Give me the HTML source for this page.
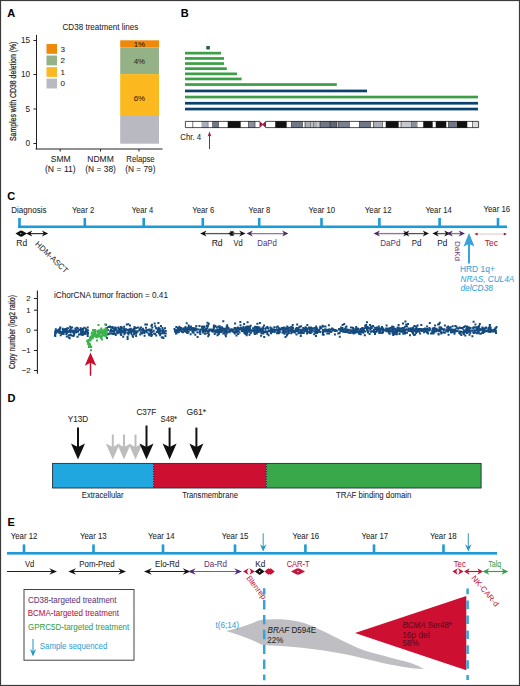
<!DOCTYPE html><html><head><meta charset="utf-8"><style>html,body{margin:0;padding:0;background:#fff;}svg{display:block;}</style></head><body>
<svg width="520" height="686" viewBox="0 0 520 686" font-family='"Liberation Sans", sans-serif'>
<rect width="520" height="686" fill="#fff"/>
<text x="7.2" y="16.9" font-size="11" fill="#000" stroke="#000" stroke-width="0.06" text-anchor="start" font-weight="bold">A</text>
<text x="180.8" y="16.8" font-size="11" fill="#000" stroke="#000" stroke-width="0.06" text-anchor="start" font-weight="bold">B</text>
<text x="7.2" y="199.8" font-size="11" fill="#000" stroke="#000" stroke-width="0.06" text-anchor="start" font-weight="bold">C</text>
<text x="7.5" y="401.5" font-size="11" fill="#000" stroke="#000" stroke-width="0.06" text-anchor="start" font-weight="bold">D</text>
<text x="7.6" y="526" font-size="11" fill="#000" stroke="#000" stroke-width="0.06" text-anchor="start" font-weight="bold">E</text>
<text transform="translate(62.54 30.40) scale(0.9288 1)" font-size="8.7" fill="#1e1e1e" stroke="#1e1e1e" stroke-width="0.06" >CD38 treatment lines</text>
<rect x="120.2" y="40.3" width="38.8" height="7.0" fill="#f0880a"/>
<rect x="120.2" y="47.3" width="38.8" height="26.8" fill="#95b287"/>
<rect x="120.2" y="74.1" width="38.8" height="41.9" fill="#fcb81f"/>
<rect x="120.2" y="116" width="38.8" height="27.7" fill="#b9b9c1"/>
<text x="139.4" y="47.4" font-size="7.9" fill="#2a1e0a" stroke="#2a1e0a" stroke-width="0.06" text-anchor="middle" >1%</text>
<text x="139.4" y="63.9" font-size="7.9" fill="#26301f" stroke="#26301f" stroke-width="0.06" text-anchor="middle" >4%</text>
<text x="139.4" y="100.6" font-size="7.9" fill="#2a1e0a" stroke="#2a1e0a" stroke-width="0.06" text-anchor="middle" >6%</text>
<rect x="46.5" y="44.00" width="10.5" height="9.8" fill="#f0880a"/>
<text x="60.5" y="51.6" font-size="8" fill="#1e1e1e" stroke="#1e1e1e" stroke-width="0.06" text-anchor="start" >3</text>
<rect x="46.5" y="55.55" width="10.5" height="9.8" fill="#95b287"/>
<text x="60.5" y="63.15" font-size="8" fill="#1e1e1e" stroke="#1e1e1e" stroke-width="0.06" text-anchor="start" >2</text>
<rect x="46.5" y="67.10" width="10.5" height="9.8" fill="#fbb825"/>
<text x="60.5" y="74.69999999999999" font-size="8" fill="#1e1e1e" stroke="#1e1e1e" stroke-width="0.06" text-anchor="start" >1</text>
<rect x="46.5" y="78.65" width="10.5" height="9.8" fill="#b9b9c1"/>
<text x="60.5" y="86.25" font-size="8" fill="#1e1e1e" stroke="#1e1e1e" stroke-width="0.06" text-anchor="start" >0</text>
<path d="M36.5 34.9V149.2M35.5 149H162.5" stroke="#222" stroke-width="1" fill="none"/>
<line x1="33.5" y1="40.5" x2="36.5" y2="40.5" stroke="#222" stroke-width="1"/>
<text x="30.1" y="43.4" font-size="8.2" fill="#1e1e1e" stroke="#1e1e1e" stroke-width="0.06" text-anchor="end" >15</text>
<line x1="33.5" y1="74.5" x2="36.5" y2="74.5" stroke="#222" stroke-width="1"/>
<text x="30.1" y="77.4" font-size="8.2" fill="#1e1e1e" stroke="#1e1e1e" stroke-width="0.06" text-anchor="end" >10</text>
<line x1="33.5" y1="109" x2="36.5" y2="109" stroke="#222" stroke-width="1"/>
<text x="30.1" y="111.9" font-size="8.2" fill="#1e1e1e" stroke="#1e1e1e" stroke-width="0.06" text-anchor="end" >5</text>
<line x1="33.5" y1="143.5" x2="36.5" y2="143.5" stroke="#222" stroke-width="1"/>
<text x="30.1" y="146.4" font-size="8.2" fill="#1e1e1e" stroke="#1e1e1e" stroke-width="0.06" text-anchor="end" >0</text>
<line x1="60.2" y1="149" x2="60.2" y2="151.5" stroke="#222" stroke-width="1"/>
<line x1="100.5" y1="149" x2="100.5" y2="151.5" stroke="#222" stroke-width="1"/>
<line x1="139" y1="149" x2="139" y2="151.5" stroke="#222" stroke-width="1"/>
<text transform="translate(50.81 161.90) scale(0.9818 1)" font-size="8.7" fill="#1e1e1e" stroke="#1e1e1e" stroke-width="0.06" >SMM</text>
<text transform="translate(45.01 171.70) scale(0.9900 1)" font-size="8.7" fill="#1e1e1e" stroke="#1e1e1e" stroke-width="0.06" >(N = 11)</text>
<text transform="translate(87.27 161.90) scale(0.9786 1)" font-size="8.7" fill="#1e1e1e" stroke="#1e1e1e" stroke-width="0.06" >NDMM</text>
<text transform="translate(85.32 171.70) scale(0.9659 1)" font-size="8.7" fill="#1e1e1e" stroke="#1e1e1e" stroke-width="0.06" >(N = 38)</text>
<text transform="translate(126.33 161.90) scale(0.8878 1)" font-size="8.7" fill="#1e1e1e" stroke="#1e1e1e" stroke-width="0.06" >Relapse</text>
<text transform="translate(125.32 171.70) scale(0.9528 1)" font-size="8.7" fill="#1e1e1e" stroke="#1e1e1e" stroke-width="0.06" >(N = 79)</text>
<text transform="translate(15.8 91.3) rotate(-90)" font-size="8.6" fill="#1e1e1e" stroke="#1e1e1e" stroke-width="0.22" text-anchor="middle" textLength="99.4" lengthAdjust="spacingAndGlyphs">Samples with CD38 deletion (%)</text>
<rect x="206.2" y="46" width="3.7" height="3.6" rx="0.8" fill="#2f5e3c"/>
<rect x="185" y="51.8" width="36.0" height="2.7" fill="#3c9e45"/>
<rect x="185" y="57.1" width="39.0" height="2.7" fill="#3c9e45"/>
<rect x="185" y="62.2" width="39.0" height="2.7" fill="#3c9e45"/>
<rect x="185" y="67.3" width="41.8" height="2.7" fill="#3c9e45"/>
<rect x="185" y="72.5" width="52.0" height="2.7" fill="#3c9e45"/>
<rect x="185" y="77.6" width="56.6" height="2.7" fill="#3c9e45"/>
<rect x="185" y="83.2" width="151.8" height="2.7" fill="#3c9e45"/>
<rect x="185" y="89.6" width="182.0" height="2.7" fill="#0b416f"/>
<rect x="185" y="95.7" width="293.0" height="2.7" fill="#3c9e45"/>
<rect x="185" y="101.9" width="293.0" height="2.7" fill="#0b416f"/>
<rect x="185" y="107.7" width="293.0" height="2.7" fill="#0b416f"/>
<g>
<rect x="185" y="121" width="7.50" height="7" fill="#ffffff"/>
<rect x="193" y="121" width="8.50" height="7" fill="#ffffff"/>
<rect x="201.5" y="121" width="6.00" height="7" fill="#a9adb6"/>
<rect x="208.5" y="121" width="3.50" height="7" fill="#ffffff"/>
<rect x="212" y="121" width="6.50" height="7" fill="#707887"/>
<rect x="218.5" y="121" width="9.50" height="7" fill="#ffffff"/>
<rect x="228" y="121" width="12.50" height="7" fill="#111111"/>
<rect x="240.5" y="121" width="8.00" height="7" fill="#ffffff"/>
<rect x="248.5" y="121" width="6.50" height="7" fill="#8a909a"/>
<rect x="255" y="121" width="4.50" height="7" fill="#ffffff"/>
<rect x="266" y="121" width="9.50" height="7" fill="#ffffff"/>
<rect x="275.5" y="121" width="11.00" height="7" fill="#111111"/>
<rect x="286.5" y="121" width="5.00" height="7" fill="#ffffff"/>
<rect x="291.5" y="121" width="11.00" height="7" fill="#707887"/>
<rect x="302.5" y="121" width="2.50" height="7" fill="#ffffff"/>
<rect x="305" y="121" width="6.00" height="7" fill="#a9adb6"/>
<rect x="311" y="121" width="2.00" height="7" fill="#ffffff"/>
<rect x="313" y="121" width="4.00" height="7" fill="#a9adb6"/>
<rect x="317" y="121" width="3.00" height="7" fill="#c4c7cc"/>
<rect x="320" y="121" width="9.00" height="7" fill="#707887"/>
<rect x="329" y="121" width="1.00" height="7" fill="#ffffff"/>
<rect x="330" y="121" width="7.00" height="7" fill="#5e6574"/>
<rect x="337" y="121" width="1.50" height="7" fill="#ffffff"/>
<rect x="338.5" y="121" width="10.50" height="7" fill="#7a8090"/>
<rect x="350" y="121" width="9.50" height="7" fill="#ffffff"/>
<rect x="359.5" y="121" width="11.00" height="7" fill="#707887"/>
<rect x="370.5" y="121" width="3.00" height="7" fill="#ffffff"/>
<rect x="373.5" y="121" width="8.50" height="7" fill="#a9adb6"/>
<rect x="383" y="121" width="3.00" height="7" fill="#ffffff"/>
<rect x="386" y="121" width="12.50" height="7" fill="#111111"/>
<rect x="398.5" y="121" width="2.50" height="7" fill="#ffffff"/>
<rect x="401" y="121" width="10.00" height="7" fill="#c4c7cc"/>
<rect x="412" y="121" width="4.50" height="7" fill="#8a909a"/>
<rect x="417.5" y="121" width="6.00" height="7" fill="#ffffff"/>
<rect x="423.5" y="121" width="9.00" height="7" fill="#111111"/>
<rect x="432.5" y="121" width="3.50" height="7" fill="#ffffff"/>
<rect x="436" y="121" width="10.00" height="7" fill="#111111"/>
<rect x="446" y="121" width="2.50" height="7" fill="#ffffff"/>
<rect x="448.5" y="121" width="7.50" height="7" fill="#707887"/>
<rect x="457" y="121" width="10.00" height="7" fill="#111111"/>
<rect x="467" y="121" width="5.00" height="7" fill="#ffffff"/>
<rect x="473" y="121" width="6.00" height="7" fill="#dcdcdc"/>
<line x1="192.75" y1="121" x2="192.75" y2="128" stroke="#222" stroke-width="0.6"/>
<line x1="208" y1="121" x2="208" y2="128" stroke="#222" stroke-width="0.6"/>
<line x1="218.5" y1="121" x2="218.5" y2="128" stroke="#222" stroke-width="0.6"/>
<line x1="228" y1="121" x2="228" y2="128" stroke="#222" stroke-width="0.6"/>
<line x1="240.5" y1="121" x2="240.5" y2="128" stroke="#222" stroke-width="0.6"/>
<line x1="248.5" y1="121" x2="248.5" y2="128" stroke="#222" stroke-width="0.6"/>
<line x1="255" y1="121" x2="255" y2="128" stroke="#222" stroke-width="0.6"/>
<line x1="275.5" y1="121" x2="275.5" y2="128" stroke="#222" stroke-width="0.6"/>
<line x1="286.5" y1="121" x2="286.5" y2="128" stroke="#222" stroke-width="0.6"/>
<line x1="291.5" y1="121" x2="291.5" y2="128" stroke="#222" stroke-width="0.6"/>
<line x1="302.5" y1="121" x2="302.5" y2="128" stroke="#222" stroke-width="0.6"/>
<line x1="305" y1="121" x2="305" y2="128" stroke="#222" stroke-width="0.6"/>
<line x1="311" y1="121" x2="311" y2="128" stroke="#222" stroke-width="0.6"/>
<line x1="313" y1="121" x2="313" y2="128" stroke="#222" stroke-width="0.6"/>
<line x1="320" y1="121" x2="320" y2="128" stroke="#222" stroke-width="0.6"/>
<line x1="329.5" y1="121" x2="329.5" y2="128" stroke="#222" stroke-width="0.6"/>
<line x1="330" y1="121" x2="330" y2="128" stroke="#222" stroke-width="0.6"/>
<line x1="337" y1="121" x2="337" y2="128" stroke="#222" stroke-width="0.6"/>
<line x1="338.5" y1="121" x2="338.5" y2="128" stroke="#222" stroke-width="0.6"/>
<line x1="349.5" y1="121" x2="349.5" y2="128" stroke="#222" stroke-width="0.6"/>
<line x1="359.5" y1="121" x2="359.5" y2="128" stroke="#222" stroke-width="0.6"/>
<line x1="370.5" y1="121" x2="370.5" y2="128" stroke="#222" stroke-width="0.6"/>
<line x1="373.5" y1="121" x2="373.5" y2="128" stroke="#222" stroke-width="0.6"/>
<line x1="382.5" y1="121" x2="382.5" y2="128" stroke="#222" stroke-width="0.6"/>
<line x1="386" y1="121" x2="386" y2="128" stroke="#222" stroke-width="0.6"/>
<line x1="398.5" y1="121" x2="398.5" y2="128" stroke="#222" stroke-width="0.6"/>
<line x1="401" y1="121" x2="401" y2="128" stroke="#222" stroke-width="0.6"/>
<line x1="411.5" y1="121" x2="411.5" y2="128" stroke="#222" stroke-width="0.6"/>
<line x1="417" y1="121" x2="417" y2="128" stroke="#222" stroke-width="0.6"/>
<line x1="423.5" y1="121" x2="423.5" y2="128" stroke="#222" stroke-width="0.6"/>
<line x1="432.5" y1="121" x2="432.5" y2="128" stroke="#222" stroke-width="0.6"/>
<line x1="436" y1="121" x2="436" y2="128" stroke="#222" stroke-width="0.6"/>
<line x1="446" y1="121" x2="446" y2="128" stroke="#222" stroke-width="0.6"/>
<line x1="448.5" y1="121" x2="448.5" y2="128" stroke="#222" stroke-width="0.6"/>
<line x1="456.5" y1="121" x2="456.5" y2="128" stroke="#222" stroke-width="0.6"/>
<line x1="467" y1="121" x2="467" y2="128" stroke="#222" stroke-width="0.6"/>
<line x1="472.5" y1="121" x2="472.5" y2="128" stroke="#222" stroke-width="0.6"/>
</g>
<path d="M185.4 121.4H259.5L262.75 124.5L266 121.4H478.6V127.6H266L262.75 124.5L259.5 127.6H185.4Z" fill="none" stroke="#222" stroke-width="0.8"/>
<path d="M259.5 121L262.75 124.4L259.5 127.8Z M266 121L262.75 124.4L266 127.8Z" fill="#a8123c"/>
<text transform="translate(180.35 139.80) scale(0.8978 1)" font-size="8.7" fill="#1e1e1e" stroke="#1e1e1e" stroke-width="0.06" >Chr. 4</text>
<line x1="209.5" y1="135" x2="209.5" y2="149" stroke="#a3194b" stroke-width="1"/>
<path d="M209.50 131.50L207.60 136.50L209.50 135.50L211.40 136.50Z" fill="#a3194b"/>
<rect x="18" y="225.5" width="489" height="2.6" fill="#1f9ad6"/>
<rect x="18.20" y="218" width="2.6" height="8" fill="#1f9ad6"/>
<rect x="83.50" y="218" width="2.6" height="8" fill="#1f9ad6"/>
<rect x="142.40" y="218" width="2.6" height="8" fill="#1f9ad6"/>
<rect x="201.50" y="218" width="2.6" height="8" fill="#1f9ad6"/>
<rect x="257.90" y="218" width="2.6" height="8" fill="#1f9ad6"/>
<rect x="320.20" y="218" width="2.6" height="8" fill="#1f9ad6"/>
<rect x="378.10" y="218" width="2.6" height="8" fill="#1f9ad6"/>
<rect x="438.30" y="218" width="2.6" height="8" fill="#1f9ad6"/>
<rect x="496.70" y="218" width="2.6" height="8" fill="#1f9ad6"/>
<path d="M15.5 233.6L20.65 230.4L21.25 230.76000000000002L21.85 230.4L27 233.6L21.85 236.79999999999998L21.25 236.43999999999997L20.65 236.79999999999998Z" fill="#111"/>
<circle cx="20.8" cy="233.6" r="0.6" fill="#fff"/>
<line x1="29.15" y1="233.6" x2="45.05" y2="233.6" stroke="#333" stroke-width="1.2"/>
<path d="M26.00 233.60L32.30 230.60L30.41 233.60L32.30 236.60Z" fill="#111"/>
<path d="M48.20 233.60L41.90 230.60L43.79 233.60L41.90 236.60Z" fill="#111"/>
<line x1="203.35" y1="233.6" x2="232.85" y2="233.6" stroke="#555" stroke-width="1.3"/>
<path d="M200.20 233.60L206.50 230.60L204.61 233.60L206.50 236.60Z" fill="#111"/>
<path d="M236.00 233.60L229.70 230.60L231.59 233.60L229.70 236.60Z" fill="#111"/>
<line x1="230.95" y1="233.6" x2="242.35" y2="233.6" stroke="#555" stroke-width="1.3"/>
<path d="M227.80 233.60L234.10 230.60L232.21 233.60L234.10 236.60Z" fill="#111"/>
<path d="M245.50 233.60L239.20 230.60L241.09 233.60L239.20 236.60Z" fill="#111"/>
<line x1="249.65" y1="233.6" x2="285.25" y2="233.6" stroke="#8c7a9c" stroke-width="1.4"/>
<path d="M246.50 233.60L252.80 230.60L250.91 233.60L252.80 236.60Z" fill="#4b2a66"/>
<path d="M288.40 233.60L282.10 230.60L283.99 233.60L282.10 236.60Z" fill="#4b2a66"/>
<line x1="376.75" y1="233.6" x2="406.35" y2="233.6" stroke="#8c7a9c" stroke-width="1.4"/>
<path d="M373.60 233.60L379.90 230.60L378.01 233.60L379.90 236.60Z" fill="#4b2a66"/>
<path d="M409.50 233.60L403.20 230.60L405.09 233.60L403.20 236.60Z" fill="#4b2a66"/>
<line x1="406.15" y1="233.6" x2="425.85" y2="233.6" stroke="#555" stroke-width="1.3"/>
<path d="M403.00 233.60L409.30 230.60L407.41 233.60L409.30 236.60Z" fill="#111"/>
<path d="M429.00 233.60L422.70 230.60L424.59 233.60L422.70 236.60Z" fill="#111"/>
<line x1="435.55" y1="233.6" x2="447.35" y2="233.6" stroke="#555" stroke-width="1.3"/>
<path d="M432.40 233.60L438.70 230.60L436.81 233.60L438.70 236.60Z" fill="#111"/>
<path d="M450.50 233.60L444.20 230.60L446.09 233.60L444.20 236.60Z" fill="#111"/>
<line x1="449.65" y1="233.6" x2="461.85" y2="233.6" stroke="#8c7a9c" stroke-width="1.4"/>
<path d="M446.50 233.60L452.80 230.60L450.91 233.60L452.80 236.60Z" fill="#4b2a66"/>
<path d="M465.00 233.60L458.70 230.60L460.59 233.60L458.70 236.60Z" fill="#4b2a66"/>
<line x1="476.00" y1="234.1" x2="505.40" y2="234.1" stroke="#dcbcc4" stroke-width="0.9"/>
<path d="M474.40 234.10L477.60 232.70L477.60 234.10L477.60 235.50Z" fill="#8c1c36"/>
<path d="M507.00 234.10L503.80 232.70L503.80 234.10L503.80 235.50Z" fill="#8c1c36"/>
<text transform="translate(11.31 212.60) scale(0.9208 1)" font-size="8.7" fill="#1e1e1e" stroke="#1e1e1e" stroke-width="0.06" >Diagnosis</text>
<text transform="translate(71.98 212.60) scale(0.8990 1)" font-size="8.7" fill="#1e1e1e" stroke="#1e1e1e" stroke-width="0.06" >Year 2</text>
<text transform="translate(131.78 212.60) scale(0.8660 1)" font-size="8.7" fill="#1e1e1e" stroke="#1e1e1e" stroke-width="0.06" >Year 4</text>
<text transform="translate(192.28 212.60) scale(0.8866 1)" font-size="8.7" fill="#1e1e1e" stroke="#1e1e1e" stroke-width="0.06" >Year 6</text>
<text transform="translate(248.58 212.60) scale(0.8742 1)" font-size="8.7" fill="#1e1e1e" stroke="#1e1e1e" stroke-width="0.06" >Year 8</text>
<text transform="translate(308.58 212.60) scale(0.8957 1)" font-size="8.7" fill="#1e1e1e" stroke="#1e1e1e" stroke-width="0.06" >Year 10</text>
<text transform="translate(364.77 212.60) scale(0.9034 1)" font-size="8.7" fill="#1e1e1e" stroke="#1e1e1e" stroke-width="0.06" >Year 12</text>
<text transform="translate(425.38 212.60) scale(0.8889 1)" font-size="8.7" fill="#1e1e1e" stroke="#1e1e1e" stroke-width="0.06" >Year 14</text>
<text transform="translate(483.47 212.40) scale(0.9000 1)" font-size="8.7" fill="#1e1e1e" stroke="#1e1e1e" stroke-width="0.06" >Year 16</text>
<text transform="translate(16.27 246.00) scale(0.9744 1)" font-size="8.7" fill="#1e1e1e" stroke="#1e1e1e" stroke-width="0.06" >Rd</text>
<text transform="translate(211.66 245.70) scale(0.9846 1)" font-size="8.7" fill="#1e1e1e" stroke="#1e1e1e" stroke-width="0.06" >Rd</text>
<text transform="translate(233.60 245.70) scale(0.8585 1)" font-size="8.7" fill="#1e1e1e" stroke="#1e1e1e" stroke-width="0.06" >Vd</text>
<text transform="translate(257.32 245.90) scale(0.9024 1)" font-size="8.7" fill="#5e3a7e" stroke="#5e3a7e" stroke-width="0.06" >DaPd</text>
<text transform="translate(380.30 245.70) scale(0.9268 1)" font-size="8.7" fill="#5e3a7e" stroke="#5e3a7e" stroke-width="0.06" >DaPd</text>
<text transform="translate(411.72 245.70) scale(0.9053 1)" font-size="8.7" fill="#1e1e1e" stroke="#1e1e1e" stroke-width="0.06" >Pd</text>
<text transform="translate(437.29 245.70) scale(0.9474 1)" font-size="8.7" fill="#1e1e1e" stroke="#1e1e1e" stroke-width="0.06" >Pd</text>
<text transform="translate(484.76 246.10) scale(0.9692 1)" font-size="8.7" fill="#c0143c" stroke="#c0143c" stroke-width="0.06" >Tec</text>
<text transform="translate(38.5 240.4) rotate(44)" font-size="8" fill="#1e1e1e" dy="5.6">HDM-ASCT</text>
<text transform="translate(454.6 241.0) rotate(90)" font-size="8" fill="#5e3a7e" dy="-0.6">DaKd</text>
<line x1="469" y1="244" x2="469" y2="263.5" stroke="#37a3d9" stroke-width="2"/>
<path d="M469.00 233.00L463.50 246.60L469.00 243.88L474.50 246.60Z" fill="#37a3d9"/>
<text transform="translate(459.97 271.80) scale(0.9698 1)" font-size="8.7" fill="#37a3d9" stroke="#37a3d9" stroke-width="0.06" >HRD 1q+</text>
<text transform="translate(460.46 281.70) scale(0.9440 1)" font-size="8.7" fill="#37a3d9" stroke="#37a3d9" stroke-width="0.06" font-style="italic">NRAS, CUL4A</text>
<text transform="translate(460.46 291.00) scale(0.9612 1)" font-size="8.7" fill="#37a3d9" stroke="#37a3d9" stroke-width="0.06" font-style="italic">delCD38</text>
<path d="M37.4 290.5V373.8" stroke="#222" stroke-width="1.1"/>
<line x1="34" y1="298.5" x2="37.5" y2="298.5" stroke="#222" stroke-width="1"/>
<text x="30.7" y="301.2" font-size="7.8" fill="#1e1e1e" stroke="#1e1e1e" stroke-width="0.06" text-anchor="end" >2</text>
<line x1="34" y1="310.2" x2="37.5" y2="310.2" stroke="#222" stroke-width="1"/>
<text x="30.7" y="312.9" font-size="7.8" fill="#1e1e1e" stroke="#1e1e1e" stroke-width="0.06" text-anchor="end" >1</text>
<line x1="34" y1="330.2" x2="37.5" y2="330.2" stroke="#222" stroke-width="1"/>
<text x="30.7" y="332.9" font-size="7.8" fill="#1e1e1e" stroke="#1e1e1e" stroke-width="0.06" text-anchor="end" >0</text>
<line x1="34" y1="350.5" x2="37.5" y2="350.5" stroke="#222" stroke-width="1"/>
<text x="30.7" y="353.2" font-size="7.8" fill="#1e1e1e" stroke="#1e1e1e" stroke-width="0.06" text-anchor="end" >−1</text>
<line x1="34" y1="370.5" x2="37.5" y2="370.5" stroke="#222" stroke-width="1"/>
<text x="30.7" y="373.2" font-size="7.8" fill="#1e1e1e" stroke="#1e1e1e" stroke-width="0.06" text-anchor="end" >−2</text>
<text transform="translate(14.6 332) rotate(-90)" font-size="8.9" fill="#1e1e1e" stroke="#1e1e1e" stroke-width="0.22" text-anchor="middle" textLength="74" lengthAdjust="spacingAndGlyphs">Copy number (log2 ratio)</text>
<text transform="translate(54.03 298.00) scale(0.9417 1)" font-size="8.7" fill="#1e1e1e" stroke="#1e1e1e" stroke-width="0.06" >iChorCNA tumor fraction = 0.41</text>
<path d="M64.5 330.0h2.0v2.0h-2.0zM65.9 329.5h2.0v2.0h-2.0zM54.8 329.5h2.0v2.0h-2.0zM67.9 330.8h2.0v2.0h-2.0zM57.7 331.0h2.0v2.0h-2.0zM73.1 333.8h2.0v2.0h-2.0zM86.7 335.1h2.0v2.0h-2.0zM58.4 331.8h2.0v2.0h-2.0zM64.0 331.0h2.0v2.0h-2.0zM75.2 328.9h2.0v2.0h-2.0zM72.1 331.2h2.0v2.0h-2.0zM76.6 330.7h2.0v2.0h-2.0zM64.2 328.0h2.0v2.0h-2.0zM80.5 329.0h2.0v2.0h-2.0zM61.8 327.7h2.0v2.0h-2.0zM78.3 329.0h2.0v2.0h-2.0zM86.8 332.3h2.0v2.0h-2.0zM58.6 332.1h2.0v2.0h-2.0zM54.8 328.3h2.0v2.0h-2.0zM83.2 326.7h2.0v2.0h-2.0zM77.1 327.6h2.0v2.0h-2.0zM82.0 328.5h2.0v2.0h-2.0zM69.6 329.9h2.0v2.0h-2.0zM75.5 329.6h2.0v2.0h-2.0zM81.4 329.8h2.0v2.0h-2.0zM54.2 332.8h2.0v2.0h-2.0zM59.2 331.0h2.0v2.0h-2.0zM57.9 331.0h2.0v2.0h-2.0zM66.8 331.1h2.0v2.0h-2.0zM72.2 329.6h2.0v2.0h-2.0zM81.3 331.7h2.0v2.0h-2.0zM65.7 328.9h2.0v2.0h-2.0zM86.0 331.3h2.0v2.0h-2.0zM61.4 331.6h2.0v2.0h-2.0zM73.5 330.4h2.0v2.0h-2.0zM66.0 330.6h2.0v2.0h-2.0zM85.9 329.3h2.0v2.0h-2.0zM76.5 335.8h2.0v2.0h-2.0zM80.0 333.5h2.0v2.0h-2.0zM67.0 327.2h2.0v2.0h-2.0zM75.0 331.2h2.0v2.0h-2.0zM59.0 330.7h2.0v2.0h-2.0zM55.3 331.8h2.0v2.0h-2.0zM65.8 335.4h2.0v2.0h-2.0zM74.4 331.5h2.0v2.0h-2.0zM65.9 331.9h2.0v2.0h-2.0zM82.3 333.2h2.0v2.0h-2.0zM56.4 330.3h2.0v2.0h-2.0zM65.1 329.9h2.0v2.0h-2.0zM54.3 335.1h2.0v2.0h-2.0zM71.4 329.8h2.0v2.0h-2.0zM86.7 332.9h2.0v2.0h-2.0zM77.2 330.2h2.0v2.0h-2.0zM79.7 332.8h2.0v2.0h-2.0zM80.0 329.5h2.0v2.0h-2.0zM87.0 331.9h2.0v2.0h-2.0zM80.9 332.1h2.0v2.0h-2.0zM71.1 326.6h2.0v2.0h-2.0zM54.5 332.4h2.0v2.0h-2.0zM77.0 330.7h2.0v2.0h-2.0zM68.7 337.2h2.0v2.0h-2.0zM65.9 327.5h2.0v2.0h-2.0zM61.2 330.9h2.0v2.0h-2.0zM84.1 332.0h2.0v2.0h-2.0zM69.8 327.8h2.0v2.0h-2.0zM75.9 326.7h2.0v2.0h-2.0zM80.1 330.4h2.0v2.0h-2.0zM80.3 327.5h2.0v2.0h-2.0zM80.7 332.9h2.0v2.0h-2.0zM85.7 329.9h2.0v2.0h-2.0zM59.3 331.4h2.0v2.0h-2.0zM80.9 331.4h2.0v2.0h-2.0zM81.6 334.0h2.0v2.0h-2.0zM72.1 329.9h2.0v2.0h-2.0zM54.0 333.9h2.0v2.0h-2.0zM85.2 329.7h2.0v2.0h-2.0zM83.1 331.2h2.0v2.0h-2.0zM63.4 328.9h2.0v2.0h-2.0zM73.4 330.2h2.0v2.0h-2.0zM84.4 333.0h2.0v2.0h-2.0zM69.1 325.7h2.0v2.0h-2.0zM84.7 327.7h2.0v2.0h-2.0zM71.6 329.9h2.0v2.0h-2.0zM59.7 334.2h2.0v2.0h-2.0zM59.3 326.4h2.0v2.0h-2.0zM64.6 331.0h2.0v2.0h-2.0zM72.4 330.6h2.0v2.0h-2.0zM61.9 329.2h2.0v2.0h-2.0zM79.7 327.2h2.0v2.0h-2.0zM84.5 330.2h2.0v2.0h-2.0zM74.3 327.4h2.0v2.0h-2.0zM68.9 330.3h2.0v2.0h-2.0zM69.7 334.0h2.0v2.0h-2.0zM85.5 329.0h2.0v2.0h-2.0zM72.5 334.9h2.0v2.0h-2.0zM57.6 328.7h2.0v2.0h-2.0zM55.9 330.4h2.0v2.0h-2.0zM80.1 331.4h2.0v2.0h-2.0zM58.7 329.6h2.0v2.0h-2.0zM83.5 326.8h2.0v2.0h-2.0zM60.9 332.8h2.0v2.0h-2.0zM87.1 329.6h2.0v2.0h-2.0zM59.0 327.6h2.0v2.0h-2.0zM60.1 331.6h2.0v2.0h-2.0zM78.0 333.5h2.0v2.0h-2.0zM54.1 330.8h2.0v2.0h-2.0zM74.7 329.5h2.0v2.0h-2.0zM80.3 330.3h2.0v2.0h-2.0zM57.0 330.3h2.0v2.0h-2.0zM62.7 331.1h2.0v2.0h-2.0zM67.8 334.3h2.0v2.0h-2.0zM58.6 327.9h2.0v2.0h-2.0zM72.9 332.4h2.0v2.0h-2.0zM67.9 336.4h2.0v2.0h-2.0zM75.1 330.7h2.0v2.0h-2.0zM55.7 329.4h2.0v2.0h-2.0zM68.9 328.7h2.0v2.0h-2.0zM62.6 333.1h2.0v2.0h-2.0zM71.4 330.5h2.0v2.0h-2.0zM55.2 331.6h2.0v2.0h-2.0zM64.1 329.0h2.0v2.0h-2.0zM70.5 334.4h2.0v2.0h-2.0zM65.3 333.1h2.0v2.0h-2.0zM72.2 330.6h2.0v2.0h-2.0zM69.6 331.5h2.0v2.0h-2.0zM68.2 329.9h2.0v2.0h-2.0zM81.9 328.1h2.0v2.0h-2.0zM86.9 332.2h2.0v2.0h-2.0zM81.8 329.4h2.0v2.0h-2.0zM125.8 323.5h2.0v2.0h-2.0zM109.2 330.3h2.0v2.0h-2.0zM110.0 328.5h2.0v2.0h-2.0zM157.2 329.4h2.0v2.0h-2.0zM122.6 328.6h2.0v2.0h-2.0zM114.4 328.5h2.0v2.0h-2.0zM163.3 331.0h2.0v2.0h-2.0zM119.6 332.5h2.0v2.0h-2.0zM105.0 329.9h2.0v2.0h-2.0zM133.5 328.7h2.0v2.0h-2.0zM105.3 330.4h2.0v2.0h-2.0zM110.4 326.2h2.0v2.0h-2.0zM118.9 330.8h2.0v2.0h-2.0zM136.7 330.4h2.0v2.0h-2.0zM157.7 326.7h2.0v2.0h-2.0zM124.5 331.8h2.0v2.0h-2.0zM143.6 334.7h2.0v2.0h-2.0zM158.5 327.5h2.0v2.0h-2.0zM113.3 327.5h2.0v2.0h-2.0zM135.2 332.7h2.0v2.0h-2.0zM140.0 326.5h2.0v2.0h-2.0zM146.0 323.5h2.0v2.0h-2.0zM126.6 328.7h2.0v2.0h-2.0zM155.1 327.1h2.0v2.0h-2.0zM145.8 329.1h2.0v2.0h-2.0zM105.2 331.6h2.0v2.0h-2.0zM137.1 326.4h2.0v2.0h-2.0zM108.9 325.6h2.0v2.0h-2.0zM148.7 328.5h2.0v2.0h-2.0zM149.4 333.3h2.0v2.0h-2.0zM133.7 329.9h2.0v2.0h-2.0zM151.0 323.7h2.0v2.0h-2.0zM120.2 328.0h2.0v2.0h-2.0zM123.2 325.7h2.0v2.0h-2.0zM145.3 330.2h2.0v2.0h-2.0zM145.5 329.6h2.0v2.0h-2.0zM133.0 333.3h2.0v2.0h-2.0zM158.6 332.5h2.0v2.0h-2.0zM106.0 336.9h2.0v2.0h-2.0zM154.2 333.1h2.0v2.0h-2.0zM117.6 329.8h2.0v2.0h-2.0zM117.6 329.2h2.0v2.0h-2.0zM162.1 329.7h2.0v2.0h-2.0zM154.2 325.2h2.0v2.0h-2.0zM118.9 330.1h2.0v2.0h-2.0zM134.1 330.6h2.0v2.0h-2.0zM132.0 330.4h2.0v2.0h-2.0zM113.4 329.2h2.0v2.0h-2.0zM105.1 332.2h2.0v2.0h-2.0zM155.3 334.5h2.0v2.0h-2.0zM159.1 334.3h2.0v2.0h-2.0zM127.3 323.2h2.0v2.0h-2.0zM126.6 336.1h2.0v2.0h-2.0zM121.5 331.5h2.0v2.0h-2.0zM122.1 330.7h2.0v2.0h-2.0zM119.9 330.1h2.0v2.0h-2.0zM127.4 333.4h2.0v2.0h-2.0zM158.0 331.7h2.0v2.0h-2.0zM161.4 327.1h2.0v2.0h-2.0zM148.2 334.2h2.0v2.0h-2.0zM150.1 331.6h2.0v2.0h-2.0zM122.2 335.8h2.0v2.0h-2.0zM133.3 332.1h2.0v2.0h-2.0zM122.8 329.9h2.0v2.0h-2.0zM144.3 323.6h2.0v2.0h-2.0zM138.4 329.2h2.0v2.0h-2.0zM117.5 331.3h2.0v2.0h-2.0zM134.8 331.4h2.0v2.0h-2.0zM132.0 335.7h2.0v2.0h-2.0zM116.5 332.3h2.0v2.0h-2.0zM119.3 331.6h2.0v2.0h-2.0zM139.2 333.5h2.0v2.0h-2.0zM129.8 327.7h2.0v2.0h-2.0zM127.6 329.9h2.0v2.0h-2.0zM163.0 331.1h2.0v2.0h-2.0zM135.2 327.0h2.0v2.0h-2.0zM121.2 326.8h2.0v2.0h-2.0zM129.0 324.5h2.0v2.0h-2.0zM157.4 321.9h2.0v2.0h-2.0zM147.6 332.6h2.0v2.0h-2.0zM105.0 328.7h2.0v2.0h-2.0zM160.6 332.6h2.0v2.0h-2.0zM119.9 326.0h2.0v2.0h-2.0zM114.2 326.6h2.0v2.0h-2.0zM148.3 329.8h2.0v2.0h-2.0zM150.9 333.9h2.0v2.0h-2.0zM118.9 331.2h2.0v2.0h-2.0zM143.7 329.9h2.0v2.0h-2.0zM143.2 331.6h2.0v2.0h-2.0zM111.7 333.1h2.0v2.0h-2.0zM128.3 331.7h2.0v2.0h-2.0zM141.0 332.5h2.0v2.0h-2.0zM162.5 330.5h2.0v2.0h-2.0zM158.0 328.6h2.0v2.0h-2.0zM162.6 330.7h2.0v2.0h-2.0zM123.4 333.3h2.0v2.0h-2.0zM130.2 330.8h2.0v2.0h-2.0zM145.0 326.8h2.0v2.0h-2.0zM130.2 329.6h2.0v2.0h-2.0zM116.9 331.6h2.0v2.0h-2.0zM117.3 326.5h2.0v2.0h-2.0zM123.7 331.2h2.0v2.0h-2.0zM150.6 328.7h2.0v2.0h-2.0zM162.1 328.8h2.0v2.0h-2.0zM130.0 330.4h2.0v2.0h-2.0zM161.9 331.9h2.0v2.0h-2.0zM163.4 332.4h2.0v2.0h-2.0zM108.1 332.7h2.0v2.0h-2.0zM158.0 331.3h2.0v2.0h-2.0zM164.8 332.4h2.0v2.0h-2.0zM161.1 329.4h2.0v2.0h-2.0zM106.9 329.1h2.0v2.0h-2.0zM124.9 328.3h2.0v2.0h-2.0zM105.2 329.9h2.0v2.0h-2.0zM112.4 332.7h2.0v2.0h-2.0zM117.4 327.5h2.0v2.0h-2.0zM130.9 329.0h2.0v2.0h-2.0zM127.3 331.8h2.0v2.0h-2.0zM158.8 328.0h2.0v2.0h-2.0zM153.7 322.4h2.0v2.0h-2.0zM160.2 329.7h2.0v2.0h-2.0zM149.8 332.2h2.0v2.0h-2.0zM162.4 329.0h2.0v2.0h-2.0zM120.7 329.9h2.0v2.0h-2.0zM105.2 328.2h2.0v2.0h-2.0zM160.0 325.1h2.0v2.0h-2.0zM133.5 325.9h2.0v2.0h-2.0zM162.2 328.9h2.0v2.0h-2.0zM134.6 331.6h2.0v2.0h-2.0zM116.0 331.7h2.0v2.0h-2.0zM151.3 326.5h2.0v2.0h-2.0zM124.6 329.4h2.0v2.0h-2.0zM109.7 332.5h2.0v2.0h-2.0zM150.2 330.2h2.0v2.0h-2.0zM124.5 331.3h2.0v2.0h-2.0zM158.0 332.3h2.0v2.0h-2.0zM110.8 330.2h2.0v2.0h-2.0zM147.6 328.7h2.0v2.0h-2.0zM142.2 331.0h2.0v2.0h-2.0zM149.9 332.5h2.0v2.0h-2.0zM155.4 327.4h2.0v2.0h-2.0zM139.0 327.5h2.0v2.0h-2.0zM119.8 333.3h2.0v2.0h-2.0zM114.2 332.8h2.0v2.0h-2.0zM128.7 328.2h2.0v2.0h-2.0zM135.4 330.9h2.0v2.0h-2.0zM164.4 334.9h2.0v2.0h-2.0zM133.5 332.4h2.0v2.0h-2.0zM107.4 326.0h2.0v2.0h-2.0zM112.1 332.9h2.0v2.0h-2.0zM160.8 336.6h2.0v2.0h-2.0zM156.9 328.5h2.0v2.0h-2.0zM161.7 331.0h2.0v2.0h-2.0zM140.7 329.1h2.0v2.0h-2.0zM113.5 329.2h2.0v2.0h-2.0zM120.3 327.4h2.0v2.0h-2.0zM105.7 328.3h2.0v2.0h-2.0zM145.7 331.2h2.0v2.0h-2.0zM152.7 332.4h2.0v2.0h-2.0zM108.8 332.4h2.0v2.0h-2.0zM143.3 331.9h2.0v2.0h-2.0zM114.8 329.5h2.0v2.0h-2.0zM123.4 328.0h2.0v2.0h-2.0zM123.7 328.2h2.0v2.0h-2.0zM156.8 329.4h2.0v2.0h-2.0zM126.8 331.7h2.0v2.0h-2.0zM105.3 334.2h2.0v2.0h-2.0zM130.4 331.5h2.0v2.0h-2.0zM132.6 328.1h2.0v2.0h-2.0zM105.9 327.0h2.0v2.0h-2.0zM110.3 329.2h2.0v2.0h-2.0zM127.2 329.0h2.0v2.0h-2.0zM136.2 330.3h2.0v2.0h-2.0zM111.5 325.9h2.0v2.0h-2.0zM116.8 330.6h2.0v2.0h-2.0zM161.6 336.2h2.0v2.0h-2.0zM128.3 329.9h2.0v2.0h-2.0zM142.2 331.0h2.0v2.0h-2.0zM118.3 329.1h2.0v2.0h-2.0zM155.8 331.1h2.0v2.0h-2.0zM129.0 329.0h2.0v2.0h-2.0zM128.0 331.7h2.0v2.0h-2.0zM158.8 330.4h2.0v2.0h-2.0zM150.4 335.0h2.0v2.0h-2.0zM141.0 331.5h2.0v2.0h-2.0zM142.6 329.5h2.0v2.0h-2.0zM130.5 332.8h2.0v2.0h-2.0zM131.8 329.9h2.0v2.0h-2.0zM134.4 330.6h2.0v2.0h-2.0zM150.8 330.9h2.0v2.0h-2.0zM133.4 327.7h2.0v2.0h-2.0zM112.7 329.4h2.0v2.0h-2.0zM135.6 331.6h2.0v2.0h-2.0zM109.9 329.9h2.0v2.0h-2.0zM108.2 326.1h2.0v2.0h-2.0zM127.7 331.7h2.0v2.0h-2.0zM164.7 330.0h2.0v2.0h-2.0zM153.9 332.8h2.0v2.0h-2.0zM162.4 337.0h2.0v2.0h-2.0zM114.9 327.0h2.0v2.0h-2.0zM150.4 324.8h2.0v2.0h-2.0zM158.8 329.7h2.0v2.0h-2.0zM135.1 334.9h2.0v2.0h-2.0zM117.5 330.1h2.0v2.0h-2.0zM107.2 333.3h2.0v2.0h-2.0zM114.7 333.9h2.0v2.0h-2.0zM115.1 328.9h2.0v2.0h-2.0zM111.9 326.9h2.0v2.0h-2.0zM157.4 329.7h2.0v2.0h-2.0zM139.8 331.2h2.0v2.0h-2.0zM142.8 329.6h2.0v2.0h-2.0zM152.8 329.7h2.0v2.0h-2.0zM126.6 338.0h2.0v2.0h-2.0zM131.5 334.5h2.0v2.0h-2.0zM120.2 334.1h2.0v2.0h-2.0zM164.0 327.2h2.0v2.0h-2.0zM105.1 323.8h2.0v2.0h-2.0zM141.9 327.7h2.0v2.0h-2.0zM112.9 331.6h2.0v2.0h-2.0zM144.2 330.6h2.0v2.0h-2.0zM111.4 330.4h2.0v2.0h-2.0zM118.4 327.5h2.0v2.0h-2.0zM142.4 328.7h2.0v2.0h-2.0zM113.1 332.1h2.0v2.0h-2.0zM110.7 329.7h2.0v2.0h-2.0zM157.3 330.9h2.0v2.0h-2.0zM105.7 327.9h2.0v2.0h-2.0zM138.7 328.3h2.0v2.0h-2.0zM475.2 331.5h2.0v2.0h-2.0zM253.5 329.7h2.0v2.0h-2.0zM304.2 328.8h2.0v2.0h-2.0zM192.3 329.2h2.0v2.0h-2.0zM476.5 328.9h2.0v2.0h-2.0zM237.7 327.3h2.0v2.0h-2.0zM435.4 327.7h2.0v2.0h-2.0zM273.1 329.0h2.0v2.0h-2.0zM425.6 329.8h2.0v2.0h-2.0zM175.5 331.0h2.0v2.0h-2.0zM412.3 326.4h2.0v2.0h-2.0zM246.2 325.5h2.0v2.0h-2.0zM414.9 330.1h2.0v2.0h-2.0zM445.7 328.8h2.0v2.0h-2.0zM313.9 327.7h2.0v2.0h-2.0zM342.0 328.9h2.0v2.0h-2.0zM243.4 332.0h2.0v2.0h-2.0zM178.4 329.1h2.0v2.0h-2.0zM477.7 330.6h2.0v2.0h-2.0zM278.7 330.5h2.0v2.0h-2.0zM465.7 328.0h2.0v2.0h-2.0zM396.6 326.4h2.0v2.0h-2.0zM443.9 324.4h2.0v2.0h-2.0zM449.6 326.2h2.0v2.0h-2.0zM272.6 330.4h2.0v2.0h-2.0zM374.0 333.1h2.0v2.0h-2.0zM182.1 331.2h2.0v2.0h-2.0zM472.6 320.8h2.0v2.0h-2.0zM396.5 330.1h2.0v2.0h-2.0zM397.9 329.1h2.0v2.0h-2.0zM290.5 328.4h2.0v2.0h-2.0zM437.4 329.8h2.0v2.0h-2.0zM467.9 328.7h2.0v2.0h-2.0zM208.0 333.7h2.0v2.0h-2.0zM435.0 330.1h2.0v2.0h-2.0zM439.1 328.1h2.0v2.0h-2.0zM205.0 328.0h2.0v2.0h-2.0zM239.5 324.3h2.0v2.0h-2.0zM264.5 331.1h2.0v2.0h-2.0zM292.0 327.0h2.0v2.0h-2.0zM447.6 333.8h2.0v2.0h-2.0zM183.5 327.4h2.0v2.0h-2.0zM285.1 330.3h2.0v2.0h-2.0zM346.7 330.0h2.0v2.0h-2.0zM437.5 333.1h2.0v2.0h-2.0zM173.9 330.2h2.0v2.0h-2.0zM174.9 332.4h2.0v2.0h-2.0zM331.7 329.6h2.0v2.0h-2.0zM285.3 328.0h2.0v2.0h-2.0zM257.4 330.7h2.0v2.0h-2.0zM398.7 328.6h2.0v2.0h-2.0zM208.9 328.6h2.0v2.0h-2.0zM398.0 328.6h2.0v2.0h-2.0zM375.7 327.9h2.0v2.0h-2.0zM460.2 330.8h2.0v2.0h-2.0zM459.6 330.5h2.0v2.0h-2.0zM463.7 329.4h2.0v2.0h-2.0zM295.6 330.3h2.0v2.0h-2.0zM344.6 328.2h2.0v2.0h-2.0zM415.9 328.1h2.0v2.0h-2.0zM223.5 327.7h2.0v2.0h-2.0zM386.7 329.1h2.0v2.0h-2.0zM422.5 328.0h2.0v2.0h-2.0zM214.1 325.1h2.0v2.0h-2.0zM235.2 330.2h2.0v2.0h-2.0zM399.9 329.8h2.0v2.0h-2.0zM253.2 328.2h2.0v2.0h-2.0zM341.6 330.1h2.0v2.0h-2.0zM487.5 330.7h2.0v2.0h-2.0zM206.3 330.1h2.0v2.0h-2.0zM490.3 329.0h2.0v2.0h-2.0zM409.6 328.0h2.0v2.0h-2.0zM207.9 329.7h2.0v2.0h-2.0zM298.5 331.2h2.0v2.0h-2.0zM396.8 329.6h2.0v2.0h-2.0zM377.1 328.1h2.0v2.0h-2.0zM303.8 329.4h2.0v2.0h-2.0zM465.9 326.8h2.0v2.0h-2.0zM309.1 330.3h2.0v2.0h-2.0zM406.0 331.7h2.0v2.0h-2.0zM448.0 326.8h2.0v2.0h-2.0zM380.1 327.5h2.0v2.0h-2.0zM205.0 329.7h2.0v2.0h-2.0zM425.4 328.5h2.0v2.0h-2.0zM309.9 326.4h2.0v2.0h-2.0zM373.6 326.7h2.0v2.0h-2.0zM232.4 330.8h2.0v2.0h-2.0zM424.1 327.4h2.0v2.0h-2.0zM185.8 330.7h2.0v2.0h-2.0zM225.3 330.1h2.0v2.0h-2.0zM206.0 324.5h2.0v2.0h-2.0zM347.7 328.7h2.0v2.0h-2.0zM440.4 326.8h2.0v2.0h-2.0zM305.6 330.5h2.0v2.0h-2.0zM299.9 328.7h2.0v2.0h-2.0zM212.9 324.6h2.0v2.0h-2.0zM302.2 326.9h2.0v2.0h-2.0zM308.9 328.6h2.0v2.0h-2.0zM245.7 327.4h2.0v2.0h-2.0zM476.1 327.8h2.0v2.0h-2.0zM299.7 328.9h2.0v2.0h-2.0zM215.1 329.8h2.0v2.0h-2.0zM324.5 325.6h2.0v2.0h-2.0zM246.2 331.0h2.0v2.0h-2.0zM437.1 328.8h2.0v2.0h-2.0zM324.2 328.5h2.0v2.0h-2.0zM441.9 331.6h2.0v2.0h-2.0zM447.4 329.0h2.0v2.0h-2.0zM310.7 331.1h2.0v2.0h-2.0zM174.3 328.9h2.0v2.0h-2.0zM270.7 327.6h2.0v2.0h-2.0zM311.5 327.3h2.0v2.0h-2.0zM472.5 327.0h2.0v2.0h-2.0zM191.9 331.2h2.0v2.0h-2.0zM218.7 325.3h2.0v2.0h-2.0zM377.4 329.5h2.0v2.0h-2.0zM384.7 329.2h2.0v2.0h-2.0zM206.2 330.1h2.0v2.0h-2.0zM285.0 330.3h2.0v2.0h-2.0zM464.6 329.5h2.0v2.0h-2.0zM369.4 328.0h2.0v2.0h-2.0zM388.7 331.9h2.0v2.0h-2.0zM237.0 327.0h2.0v2.0h-2.0zM344.4 329.1h2.0v2.0h-2.0zM352.2 327.0h2.0v2.0h-2.0zM248.9 327.7h2.0v2.0h-2.0zM220.0 331.0h2.0v2.0h-2.0zM333.9 333.6h2.0v2.0h-2.0zM324.2 328.2h2.0v2.0h-2.0zM387.7 330.2h2.0v2.0h-2.0zM482.8 330.4h2.0v2.0h-2.0zM378.3 331.9h2.0v2.0h-2.0zM473.4 329.7h2.0v2.0h-2.0zM489.6 326.9h2.0v2.0h-2.0zM184.4 329.0h2.0v2.0h-2.0zM374.8 327.1h2.0v2.0h-2.0zM326.3 332.6h2.0v2.0h-2.0zM421.6 329.7h2.0v2.0h-2.0zM351.9 331.3h2.0v2.0h-2.0zM267.8 330.1h2.0v2.0h-2.0zM261.0 327.4h2.0v2.0h-2.0zM487.4 327.2h2.0v2.0h-2.0zM275.6 326.3h2.0v2.0h-2.0zM362.3 331.7h2.0v2.0h-2.0zM458.6 326.6h2.0v2.0h-2.0zM189.5 329.1h2.0v2.0h-2.0zM470.2 329.4h2.0v2.0h-2.0zM385.4 330.2h2.0v2.0h-2.0zM372.1 324.9h2.0v2.0h-2.0zM397.7 326.7h2.0v2.0h-2.0zM388.3 327.5h2.0v2.0h-2.0zM419.1 332.6h2.0v2.0h-2.0zM467.8 329.9h2.0v2.0h-2.0zM292.3 330.7h2.0v2.0h-2.0zM256.6 326.0h2.0v2.0h-2.0zM309.3 328.3h2.0v2.0h-2.0zM474.2 329.3h2.0v2.0h-2.0zM186.2 331.9h2.0v2.0h-2.0zM469.3 331.7h2.0v2.0h-2.0zM178.0 327.1h2.0v2.0h-2.0zM489.3 330.9h2.0v2.0h-2.0zM306.3 331.5h2.0v2.0h-2.0zM222.3 320.3h2.0v2.0h-2.0zM393.7 332.9h2.0v2.0h-2.0zM453.5 332.8h2.0v2.0h-2.0zM179.2 328.9h2.0v2.0h-2.0zM233.8 332.6h2.0v2.0h-2.0zM403.2 331.2h2.0v2.0h-2.0zM375.9 326.6h2.0v2.0h-2.0zM321.8 330.6h2.0v2.0h-2.0zM404.4 320.4h2.0v2.0h-2.0zM383.0 329.5h2.0v2.0h-2.0zM408.4 328.4h2.0v2.0h-2.0zM450.7 328.5h2.0v2.0h-2.0zM358.6 329.2h2.0v2.0h-2.0zM391.4 331.4h2.0v2.0h-2.0zM381.1 332.0h2.0v2.0h-2.0zM308.1 326.5h2.0v2.0h-2.0zM426.1 331.5h2.0v2.0h-2.0zM267.6 334.2h2.0v2.0h-2.0zM439.9 331.2h2.0v2.0h-2.0zM368.6 332.9h2.0v2.0h-2.0zM272.8 328.6h2.0v2.0h-2.0zM459.5 327.0h2.0v2.0h-2.0zM462.0 331.3h2.0v2.0h-2.0zM264.7 330.7h2.0v2.0h-2.0zM362.4 329.2h2.0v2.0h-2.0zM459.2 332.8h2.0v2.0h-2.0zM452.7 330.2h2.0v2.0h-2.0zM261.7 331.3h2.0v2.0h-2.0zM467.7 326.3h2.0v2.0h-2.0zM200.9 325.8h2.0v2.0h-2.0zM415.0 328.0h2.0v2.0h-2.0zM248.8 326.8h2.0v2.0h-2.0zM240.0 327.3h2.0v2.0h-2.0zM415.3 329.8h2.0v2.0h-2.0zM433.2 327.0h2.0v2.0h-2.0zM248.5 325.4h2.0v2.0h-2.0zM341.5 327.1h2.0v2.0h-2.0zM363.2 329.7h2.0v2.0h-2.0zM399.2 330.4h2.0v2.0h-2.0zM355.2 327.2h2.0v2.0h-2.0zM187.8 330.6h2.0v2.0h-2.0zM293.9 331.4h2.0v2.0h-2.0zM223.8 330.9h2.0v2.0h-2.0zM284.5 336.0h2.0v2.0h-2.0zM452.4 329.1h2.0v2.0h-2.0zM356.1 328.9h2.0v2.0h-2.0zM478.3 332.6h2.0v2.0h-2.0zM437.1 323.4h2.0v2.0h-2.0zM231.7 328.8h2.0v2.0h-2.0zM189.9 325.4h2.0v2.0h-2.0zM478.5 327.8h2.0v2.0h-2.0zM194.1 327.5h2.0v2.0h-2.0zM482.4 328.0h2.0v2.0h-2.0zM355.2 326.0h2.0v2.0h-2.0zM300.1 325.3h2.0v2.0h-2.0zM224.9 335.2h2.0v2.0h-2.0zM185.9 327.9h2.0v2.0h-2.0zM286.8 332.7h2.0v2.0h-2.0zM188.6 326.7h2.0v2.0h-2.0zM402.0 322.5h2.0v2.0h-2.0zM416.6 324.5h2.0v2.0h-2.0zM391.4 328.4h2.0v2.0h-2.0zM207.4 331.7h2.0v2.0h-2.0zM256.2 330.8h2.0v2.0h-2.0zM250.3 330.8h2.0v2.0h-2.0zM391.7 332.3h2.0v2.0h-2.0zM185.1 329.4h2.0v2.0h-2.0zM244.5 332.9h2.0v2.0h-2.0zM218.5 327.6h2.0v2.0h-2.0zM204.7 332.6h2.0v2.0h-2.0zM319.1 327.5h2.0v2.0h-2.0zM438.5 326.4h2.0v2.0h-2.0zM244.9 331.6h2.0v2.0h-2.0zM351.7 331.7h2.0v2.0h-2.0zM306.1 332.4h2.0v2.0h-2.0zM260.8 330.1h2.0v2.0h-2.0zM331.6 327.7h2.0v2.0h-2.0zM464.3 334.5h2.0v2.0h-2.0zM388.7 332.8h2.0v2.0h-2.0zM327.2 328.8h2.0v2.0h-2.0zM290.8 330.7h2.0v2.0h-2.0zM494.9 330.0h2.0v2.0h-2.0zM462.1 331.8h2.0v2.0h-2.0zM268.0 329.5h2.0v2.0h-2.0zM283.3 329.1h2.0v2.0h-2.0zM174.1 330.4h2.0v2.0h-2.0zM313.6 327.1h2.0v2.0h-2.0zM243.8 328.2h2.0v2.0h-2.0zM421.6 328.7h2.0v2.0h-2.0zM236.8 329.9h2.0v2.0h-2.0zM333.0 329.6h2.0v2.0h-2.0zM239.8 326.8h2.0v2.0h-2.0zM361.2 327.1h2.0v2.0h-2.0zM194.6 329.0h2.0v2.0h-2.0zM191.3 327.1h2.0v2.0h-2.0zM281.4 331.4h2.0v2.0h-2.0zM178.5 325.8h2.0v2.0h-2.0zM326.9 330.3h2.0v2.0h-2.0zM441.3 328.0h2.0v2.0h-2.0zM226.1 328.5h2.0v2.0h-2.0zM317.0 331.1h2.0v2.0h-2.0zM212.4 328.4h2.0v2.0h-2.0zM276.8 325.6h2.0v2.0h-2.0zM296.3 329.2h2.0v2.0h-2.0zM480.7 328.5h2.0v2.0h-2.0zM338.8 335.7h2.0v2.0h-2.0zM245.5 328.7h2.0v2.0h-2.0zM206.5 321.7h2.0v2.0h-2.0zM398.5 332.9h2.0v2.0h-2.0zM179.2 327.1h2.0v2.0h-2.0zM399.7 327.6h2.0v2.0h-2.0zM453.5 329.1h2.0v2.0h-2.0zM332.4 328.6h2.0v2.0h-2.0zM263.5 330.6h2.0v2.0h-2.0zM364.0 330.6h2.0v2.0h-2.0zM220.9 326.2h2.0v2.0h-2.0zM439.5 327.7h2.0v2.0h-2.0zM298.7 325.8h2.0v2.0h-2.0zM300.9 331.0h2.0v2.0h-2.0zM423.6 328.4h2.0v2.0h-2.0zM313.7 330.4h2.0v2.0h-2.0zM432.5 332.3h2.0v2.0h-2.0zM190.7 327.3h2.0v2.0h-2.0zM481.9 330.6h2.0v2.0h-2.0zM377.2 328.6h2.0v2.0h-2.0zM344.4 331.1h2.0v2.0h-2.0zM180.2 330.1h2.0v2.0h-2.0zM485.7 330.0h2.0v2.0h-2.0zM434.1 324.5h2.0v2.0h-2.0zM458.3 332.0h2.0v2.0h-2.0zM391.9 329.8h2.0v2.0h-2.0zM348.1 331.7h2.0v2.0h-2.0zM341.0 327.9h2.0v2.0h-2.0zM479.7 328.8h2.0v2.0h-2.0zM212.2 330.8h2.0v2.0h-2.0zM481.3 327.6h2.0v2.0h-2.0zM345.4 329.0h2.0v2.0h-2.0zM213.4 330.3h2.0v2.0h-2.0zM266.3 330.4h2.0v2.0h-2.0zM201.8 325.5h2.0v2.0h-2.0zM357.1 328.1h2.0v2.0h-2.0zM238.3 328.6h2.0v2.0h-2.0zM370.8 327.0h2.0v2.0h-2.0zM273.5 329.2h2.0v2.0h-2.0zM296.9 330.6h2.0v2.0h-2.0zM177.3 326.8h2.0v2.0h-2.0zM352.7 332.4h2.0v2.0h-2.0zM265.2 330.8h2.0v2.0h-2.0zM224.5 334.1h2.0v2.0h-2.0zM315.2 331.0h2.0v2.0h-2.0zM410.3 329.9h2.0v2.0h-2.0zM246.0 332.3h2.0v2.0h-2.0zM282.0 328.4h2.0v2.0h-2.0zM390.9 326.3h2.0v2.0h-2.0zM340.2 326.6h2.0v2.0h-2.0zM412.8 329.3h2.0v2.0h-2.0zM401.6 326.9h2.0v2.0h-2.0zM214.5 329.3h2.0v2.0h-2.0zM362.1 329.0h2.0v2.0h-2.0zM483.5 327.3h2.0v2.0h-2.0zM454.5 328.3h2.0v2.0h-2.0zM295.7 327.1h2.0v2.0h-2.0zM267.8 329.8h2.0v2.0h-2.0zM352.3 327.9h2.0v2.0h-2.0zM447.0 330.4h2.0v2.0h-2.0zM316.5 329.9h2.0v2.0h-2.0zM358.8 330.7h2.0v2.0h-2.0zM201.8 330.7h2.0v2.0h-2.0zM443.4 328.3h2.0v2.0h-2.0zM239.3 320.9h2.0v2.0h-2.0zM355.4 331.1h2.0v2.0h-2.0zM469.8 329.5h2.0v2.0h-2.0zM340.1 326.7h2.0v2.0h-2.0zM394.1 327.7h2.0v2.0h-2.0zM286.5 330.4h2.0v2.0h-2.0zM391.3 328.3h2.0v2.0h-2.0zM302.6 329.0h2.0v2.0h-2.0zM358.3 332.9h2.0v2.0h-2.0zM315.2 325.6h2.0v2.0h-2.0zM494.2 327.8h2.0v2.0h-2.0zM228.5 331.2h2.0v2.0h-2.0zM488.5 330.3h2.0v2.0h-2.0zM461.5 327.1h2.0v2.0h-2.0zM437.7 333.4h2.0v2.0h-2.0zM223.8 328.9h2.0v2.0h-2.0zM338.2 327.9h2.0v2.0h-2.0zM376.4 329.1h2.0v2.0h-2.0zM287.2 326.8h2.0v2.0h-2.0zM427.1 329.1h2.0v2.0h-2.0zM395.9 330.9h2.0v2.0h-2.0zM362.2 329.2h2.0v2.0h-2.0zM236.8 326.6h2.0v2.0h-2.0zM381.8 329.2h2.0v2.0h-2.0zM494.5 327.3h2.0v2.0h-2.0zM224.0 328.3h2.0v2.0h-2.0zM207.8 330.2h2.0v2.0h-2.0zM438.5 329.9h2.0v2.0h-2.0zM433.2 329.5h2.0v2.0h-2.0zM277.4 329.3h2.0v2.0h-2.0zM287.4 329.9h2.0v2.0h-2.0zM464.5 330.6h2.0v2.0h-2.0zM285.8 334.4h2.0v2.0h-2.0zM361.1 329.8h2.0v2.0h-2.0zM315.0 335.1h2.0v2.0h-2.0zM448.7 328.1h2.0v2.0h-2.0zM462.9 329.9h2.0v2.0h-2.0zM482.6 327.6h2.0v2.0h-2.0zM479.3 329.3h2.0v2.0h-2.0zM244.8 331.2h2.0v2.0h-2.0zM455.3 325.6h2.0v2.0h-2.0zM229.3 329.5h2.0v2.0h-2.0zM233.5 330.8h2.0v2.0h-2.0zM210.5 328.9h2.0v2.0h-2.0zM297.6 328.6h2.0v2.0h-2.0zM439.4 329.6h2.0v2.0h-2.0zM252.3 329.8h2.0v2.0h-2.0zM184.7 330.7h2.0v2.0h-2.0zM283.4 330.9h2.0v2.0h-2.0zM260.3 331.8h2.0v2.0h-2.0zM214.6 325.6h2.0v2.0h-2.0zM224.7 330.5h2.0v2.0h-2.0zM406.1 325.6h2.0v2.0h-2.0zM479.7 332.7h2.0v2.0h-2.0zM246.7 328.2h2.0v2.0h-2.0zM257.4 329.5h2.0v2.0h-2.0zM362.7 328.2h2.0v2.0h-2.0zM241.9 330.3h2.0v2.0h-2.0zM213.0 326.7h2.0v2.0h-2.0zM422.0 329.0h2.0v2.0h-2.0zM385.2 327.6h2.0v2.0h-2.0zM201.2 328.5h2.0v2.0h-2.0zM447.5 327.9h2.0v2.0h-2.0zM354.4 331.8h2.0v2.0h-2.0zM334.6 329.0h2.0v2.0h-2.0zM246.4 329.9h2.0v2.0h-2.0zM404.3 328.8h2.0v2.0h-2.0zM423.0 331.2h2.0v2.0h-2.0zM450.8 331.1h2.0v2.0h-2.0zM387.2 330.4h2.0v2.0h-2.0zM306.3 327.5h2.0v2.0h-2.0zM446.1 326.6h2.0v2.0h-2.0zM376.0 329.6h2.0v2.0h-2.0zM409.8 330.1h2.0v2.0h-2.0zM186.5 330.3h2.0v2.0h-2.0zM271.1 329.5h2.0v2.0h-2.0zM186.1 328.1h2.0v2.0h-2.0zM443.8 331.8h2.0v2.0h-2.0zM404.2 329.1h2.0v2.0h-2.0zM285.9 333.5h2.0v2.0h-2.0zM423.5 329.0h2.0v2.0h-2.0zM369.1 324.1h2.0v2.0h-2.0zM209.3 329.5h2.0v2.0h-2.0zM414.8 327.9h2.0v2.0h-2.0zM397.2 326.6h2.0v2.0h-2.0zM264.0 331.2h2.0v2.0h-2.0zM478.2 325.1h2.0v2.0h-2.0zM411.3 331.3h2.0v2.0h-2.0zM375.7 328.5h2.0v2.0h-2.0zM311.4 329.4h2.0v2.0h-2.0zM472.3 331.4h2.0v2.0h-2.0zM432.9 331.6h2.0v2.0h-2.0zM349.4 332.0h2.0v2.0h-2.0zM253.9 325.9h2.0v2.0h-2.0zM306.0 329.7h2.0v2.0h-2.0zM401.1 330.8h2.0v2.0h-2.0zM250.1 329.3h2.0v2.0h-2.0zM474.8 331.6h2.0v2.0h-2.0zM269.9 330.0h2.0v2.0h-2.0zM280.9 328.4h2.0v2.0h-2.0zM350.0 329.3h2.0v2.0h-2.0zM366.3 328.0h2.0v2.0h-2.0zM420.2 329.7h2.0v2.0h-2.0zM289.6 328.3h2.0v2.0h-2.0zM192.9 328.9h2.0v2.0h-2.0zM317.7 330.5h2.0v2.0h-2.0zM278.0 327.3h2.0v2.0h-2.0zM196.6 336.1h2.0v2.0h-2.0zM415.1 331.9h2.0v2.0h-2.0zM355.0 330.8h2.0v2.0h-2.0zM330.9 328.0h2.0v2.0h-2.0zM176.2 329.7h2.0v2.0h-2.0zM381.0 325.9h2.0v2.0h-2.0zM254.4 325.8h2.0v2.0h-2.0zM218.1 332.6h2.0v2.0h-2.0zM268.9 329.8h2.0v2.0h-2.0zM378.9 331.8h2.0v2.0h-2.0zM426.1 325.4h2.0v2.0h-2.0zM412.5 328.6h2.0v2.0h-2.0zM276.6 330.3h2.0v2.0h-2.0zM350.9 326.6h2.0v2.0h-2.0zM186.8 331.9h2.0v2.0h-2.0zM375.8 330.5h2.0v2.0h-2.0zM477.7 326.3h2.0v2.0h-2.0zM334.3 330.1h2.0v2.0h-2.0zM199.3 330.6h2.0v2.0h-2.0zM226.2 324.2h2.0v2.0h-2.0zM186.3 331.0h2.0v2.0h-2.0zM234.9 329.2h2.0v2.0h-2.0zM448.9 329.0h2.0v2.0h-2.0zM310.5 328.6h2.0v2.0h-2.0zM309.1 332.1h2.0v2.0h-2.0zM314.7 327.3h2.0v2.0h-2.0zM226.4 325.9h2.0v2.0h-2.0zM316.2 327.5h2.0v2.0h-2.0zM200.9 328.5h2.0v2.0h-2.0zM321.8 333.5h2.0v2.0h-2.0zM487.2 328.4h2.0v2.0h-2.0zM373.1 329.4h2.0v2.0h-2.0zM369.6 328.5h2.0v2.0h-2.0zM357.4 331.4h2.0v2.0h-2.0zM269.9 328.5h2.0v2.0h-2.0zM458.5 330.5h2.0v2.0h-2.0zM317.5 329.4h2.0v2.0h-2.0zM386.2 327.4h2.0v2.0h-2.0zM344.1 331.1h2.0v2.0h-2.0zM301.1 330.1h2.0v2.0h-2.0zM350.0 330.0h2.0v2.0h-2.0zM451.1 329.2h2.0v2.0h-2.0zM254.5 330.1h2.0v2.0h-2.0zM351.9 329.6h2.0v2.0h-2.0zM338.7 331.8h2.0v2.0h-2.0zM199.3 328.5h2.0v2.0h-2.0zM451.5 329.6h2.0v2.0h-2.0zM403.6 329.2h2.0v2.0h-2.0zM405.8 328.2h2.0v2.0h-2.0zM440.8 328.2h2.0v2.0h-2.0zM354.8 329.9h2.0v2.0h-2.0zM217.5 329.3h2.0v2.0h-2.0zM293.4 329.7h2.0v2.0h-2.0zM242.1 328.2h2.0v2.0h-2.0zM459.6 332.2h2.0v2.0h-2.0zM454.3 325.1h2.0v2.0h-2.0zM227.6 327.5h2.0v2.0h-2.0zM283.4 329.4h2.0v2.0h-2.0zM213.0 326.2h2.0v2.0h-2.0zM410.9 329.8h2.0v2.0h-2.0zM205.6 328.2h2.0v2.0h-2.0zM432.1 332.6h2.0v2.0h-2.0zM255.5 332.1h2.0v2.0h-2.0zM317.3 330.6h2.0v2.0h-2.0zM180.2 326.9h2.0v2.0h-2.0zM431.3 330.2h2.0v2.0h-2.0zM394.7 331.5h2.0v2.0h-2.0zM219.9 330.9h2.0v2.0h-2.0zM433.7 327.4h2.0v2.0h-2.0zM177.9 328.6h2.0v2.0h-2.0zM454.6 330.1h2.0v2.0h-2.0zM184.9 330.7h2.0v2.0h-2.0zM299.9 332.5h2.0v2.0h-2.0zM224.4 330.3h2.0v2.0h-2.0zM370.2 325.4h2.0v2.0h-2.0zM243.1 322.9h2.0v2.0h-2.0zM289.7 327.5h2.0v2.0h-2.0zM359.3 329.4h2.0v2.0h-2.0zM281.0 327.5h2.0v2.0h-2.0zM491.1 330.3h2.0v2.0h-2.0zM261.3 329.5h2.0v2.0h-2.0zM334.5 329.0h2.0v2.0h-2.0zM481.6 331.8h2.0v2.0h-2.0zM184.5 326.0h2.0v2.0h-2.0zM422.8 327.9h2.0v2.0h-2.0zM377.8 328.1h2.0v2.0h-2.0zM454.5 330.4h2.0v2.0h-2.0zM392.9 328.1h2.0v2.0h-2.0zM337.3 332.4h2.0v2.0h-2.0zM286.3 325.6h2.0v2.0h-2.0zM277.6 328.5h2.0v2.0h-2.0zM328.5 328.2h2.0v2.0h-2.0zM285.9 330.3h2.0v2.0h-2.0zM175.8 330.7h2.0v2.0h-2.0zM356.6 327.6h2.0v2.0h-2.0zM227.9 330.7h2.0v2.0h-2.0zM407.5 329.9h2.0v2.0h-2.0zM475.3 326.8h2.0v2.0h-2.0zM199.3 333.0h2.0v2.0h-2.0zM360.4 331.1h2.0v2.0h-2.0zM311.4 329.0h2.0v2.0h-2.0zM195.3 324.9h2.0v2.0h-2.0zM256.4 322.8h2.0v2.0h-2.0zM259.8 328.8h2.0v2.0h-2.0zM238.0 327.8h2.0v2.0h-2.0zM451.7 328.4h2.0v2.0h-2.0zM483.6 328.1h2.0v2.0h-2.0zM199.0 330.7h2.0v2.0h-2.0zM217.5 325.4h2.0v2.0h-2.0zM346.4 331.2h2.0v2.0h-2.0zM241.8 327.2h2.0v2.0h-2.0zM414.8 328.0h2.0v2.0h-2.0zM282.2 326.8h2.0v2.0h-2.0zM188.1 327.9h2.0v2.0h-2.0zM366.0 327.9h2.0v2.0h-2.0zM322.7 333.7h2.0v2.0h-2.0zM491.5 330.0h2.0v2.0h-2.0zM406.7 328.8h2.0v2.0h-2.0zM219.4 330.0h2.0v2.0h-2.0zM202.4 330.0h2.0v2.0h-2.0zM363.0 327.2h2.0v2.0h-2.0zM385.1 327.7h2.0v2.0h-2.0zM256.5 328.1h2.0v2.0h-2.0zM419.3 329.5h2.0v2.0h-2.0zM488.2 327.5h2.0v2.0h-2.0zM263.1 324.5h2.0v2.0h-2.0zM176.4 328.5h2.0v2.0h-2.0zM384.5 329.5h2.0v2.0h-2.0zM246.9 327.3h2.0v2.0h-2.0zM202.4 328.2h2.0v2.0h-2.0zM352.3 329.4h2.0v2.0h-2.0zM476.1 328.4h2.0v2.0h-2.0zM411.0 330.0h2.0v2.0h-2.0zM225.7 332.6h2.0v2.0h-2.0zM489.8 329.8h2.0v2.0h-2.0zM378.3 327.2h2.0v2.0h-2.0zM277.8 332.2h2.0v2.0h-2.0zM208.2 329.1h2.0v2.0h-2.0zM302.9 328.4h2.0v2.0h-2.0zM192.8 327.3h2.0v2.0h-2.0zM477.8 328.4h2.0v2.0h-2.0zM245.6 329.2h2.0v2.0h-2.0zM248.0 330.7h2.0v2.0h-2.0zM417.9 328.1h2.0v2.0h-2.0zM243.2 327.9h2.0v2.0h-2.0zM223.9 331.8h2.0v2.0h-2.0zM415.5 326.1h2.0v2.0h-2.0zM264.5 328.0h2.0v2.0h-2.0zM225.5 331.2h2.0v2.0h-2.0zM365.9 326.7h2.0v2.0h-2.0zM241.0 329.9h2.0v2.0h-2.0zM289.5 329.9h2.0v2.0h-2.0zM451.7 325.3h2.0v2.0h-2.0zM269.3 330.1h2.0v2.0h-2.0zM176.5 329.3h2.0v2.0h-2.0zM222.0 329.1h2.0v2.0h-2.0zM393.3 328.3h2.0v2.0h-2.0zM282.8 331.9h2.0v2.0h-2.0zM488.9 323.9h2.0v2.0h-2.0zM428.5 329.0h2.0v2.0h-2.0zM248.1 328.7h2.0v2.0h-2.0zM207.2 335.3h2.0v2.0h-2.0zM456.4 329.9h2.0v2.0h-2.0zM330.4 330.6h2.0v2.0h-2.0zM394.2 330.8h2.0v2.0h-2.0zM411.2 328.2h2.0v2.0h-2.0zM333.3 329.2h2.0v2.0h-2.0zM286.0 330.3h2.0v2.0h-2.0zM409.0 334.3h2.0v2.0h-2.0zM230.5 328.3h2.0v2.0h-2.0zM304.9 329.9h2.0v2.0h-2.0zM290.2 332.2h2.0v2.0h-2.0zM348.6 329.4h2.0v2.0h-2.0zM395.8 333.2h2.0v2.0h-2.0zM302.0 328.7h2.0v2.0h-2.0zM308.4 331.1h2.0v2.0h-2.0zM305.5 328.8h2.0v2.0h-2.0zM495.0 331.9h2.0v2.0h-2.0zM255.5 329.3h2.0v2.0h-2.0zM294.9 329.3h2.0v2.0h-2.0zM444.9 330.5h2.0v2.0h-2.0zM466.0 332.1h2.0v2.0h-2.0zM381.6 330.1h2.0v2.0h-2.0zM275.1 329.3h2.0v2.0h-2.0zM448.3 329.2h2.0v2.0h-2.0zM364.2 330.6h2.0v2.0h-2.0zM412.8 329.1h2.0v2.0h-2.0zM402.8 327.3h2.0v2.0h-2.0zM391.5 330.7h2.0v2.0h-2.0zM376.0 327.8h2.0v2.0h-2.0zM258.8 328.8h2.0v2.0h-2.0zM325.9 328.7h2.0v2.0h-2.0zM244.7 326.8h2.0v2.0h-2.0zM472.1 326.8h2.0v2.0h-2.0zM435.4 328.7h2.0v2.0h-2.0zM229.0 330.1h2.0v2.0h-2.0zM439.9 327.2h2.0v2.0h-2.0zM452.9 331.1h2.0v2.0h-2.0zM436.8 329.7h2.0v2.0h-2.0zM223.0 329.2h2.0v2.0h-2.0zM432.1 330.1h2.0v2.0h-2.0zM319.3 330.9h2.0v2.0h-2.0zM397.3 330.2h2.0v2.0h-2.0zM327.5 330.2h2.0v2.0h-2.0zM392.5 326.0h2.0v2.0h-2.0zM341.1 329.3h2.0v2.0h-2.0zM296.2 323.4h2.0v2.0h-2.0zM357.2 330.4h2.0v2.0h-2.0zM261.9 329.6h2.0v2.0h-2.0zM251.3 329.6h2.0v2.0h-2.0zM450.0 328.4h2.0v2.0h-2.0zM309.7 329.9h2.0v2.0h-2.0zM187.6 326.5h2.0v2.0h-2.0zM291.7 328.8h2.0v2.0h-2.0zM382.2 327.6h2.0v2.0h-2.0zM286.9 327.2h2.0v2.0h-2.0zM235.2 330.9h2.0v2.0h-2.0zM402.7 327.1h2.0v2.0h-2.0zM196.3 331.3h2.0v2.0h-2.0zM295.6 326.9h2.0v2.0h-2.0zM417.2 329.7h2.0v2.0h-2.0zM322.4 325.5h2.0v2.0h-2.0zM326.0 330.1h2.0v2.0h-2.0zM315.1 326.8h2.0v2.0h-2.0zM389.3 329.3h2.0v2.0h-2.0zM302.8 332.1h2.0v2.0h-2.0zM421.2 329.9h2.0v2.0h-2.0zM211.5 329.3h2.0v2.0h-2.0zM206.2 330.0h2.0v2.0h-2.0zM416.0 328.6h2.0v2.0h-2.0zM402.4 328.9h2.0v2.0h-2.0zM191.1 328.4h2.0v2.0h-2.0zM494.9 327.2h2.0v2.0h-2.0zM454.2 330.3h2.0v2.0h-2.0zM175.4 330.6h2.0v2.0h-2.0zM261.9 329.0h2.0v2.0h-2.0zM450.0 330.9h2.0v2.0h-2.0zM338.0 328.6h2.0v2.0h-2.0zM452.6 329.5h2.0v2.0h-2.0zM449.3 328.8h2.0v2.0h-2.0zM293.8 330.5h2.0v2.0h-2.0zM330.9 327.5h2.0v2.0h-2.0zM238.0 328.2h2.0v2.0h-2.0zM352.6 330.8h2.0v2.0h-2.0zM305.2 329.7h2.0v2.0h-2.0zM277.7 328.7h2.0v2.0h-2.0zM402.3 332.7h2.0v2.0h-2.0zM364.1 324.7h2.0v2.0h-2.0zM456.2 327.1h2.0v2.0h-2.0zM379.3 329.7h2.0v2.0h-2.0zM231.5 330.4h2.0v2.0h-2.0zM354.1 329.9h2.0v2.0h-2.0zM390.8 326.9h2.0v2.0h-2.0zM241.4 329.8h2.0v2.0h-2.0zM240.1 328.2h2.0v2.0h-2.0zM204.1 330.2h2.0v2.0h-2.0zM385.6 324.4h2.0v2.0h-2.0zM465.2 331.3h2.0v2.0h-2.0zM186.9 328.1h2.0v2.0h-2.0zM268.0 329.5h2.0v2.0h-2.0zM354.0 331.8h2.0v2.0h-2.0zM467.1 327.5h2.0v2.0h-2.0zM430.9 332.6h2.0v2.0h-2.0zM299.5 331.1h2.0v2.0h-2.0zM245.4 329.6h2.0v2.0h-2.0zM203.6 326.0h2.0v2.0h-2.0zM392.1 329.9h2.0v2.0h-2.0zM440.3 332.4h2.0v2.0h-2.0zM476.0 332.3h2.0v2.0h-2.0zM267.1 327.3h2.0v2.0h-2.0zM472.9 331.9h2.0v2.0h-2.0zM329.6 331.0h2.0v2.0h-2.0zM202.0 327.1h2.0v2.0h-2.0zM260.8 332.2h2.0v2.0h-2.0zM471.2 329.8h2.0v2.0h-2.0zM485.0 326.5h2.0v2.0h-2.0zM189.6 333.2h2.0v2.0h-2.0zM318.3 329.2h2.0v2.0h-2.0zM427.1 332.5h2.0v2.0h-2.0zM195.8 328.3h2.0v2.0h-2.0zM427.2 328.9h2.0v2.0h-2.0zM322.0 331.5h2.0v2.0h-2.0zM381.8 329.7h2.0v2.0h-2.0zM359.6 328.0h2.0v2.0h-2.0zM226.3 330.7h2.0v2.0h-2.0zM476.7 327.3h2.0v2.0h-2.0zM328.1 332.5h2.0v2.0h-2.0zM203.8 329.9h2.0v2.0h-2.0zM346.1 328.5h2.0v2.0h-2.0zM324.1 330.5h2.0v2.0h-2.0zM291.6 331.3h2.0v2.0h-2.0zM303.5 329.5h2.0v2.0h-2.0zM454.1 330.2h2.0v2.0h-2.0zM460.3 334.0h2.0v2.0h-2.0zM428.2 329.6h2.0v2.0h-2.0zM395.3 329.6h2.0v2.0h-2.0zM258.5 326.5h2.0v2.0h-2.0zM340.3 328.1h2.0v2.0h-2.0zM359.8 333.2h2.0v2.0h-2.0zM365.2 324.1h2.0v2.0h-2.0zM366.4 326.1h2.0v2.0h-2.0zM186.8 326.9h2.0v2.0h-2.0zM283.6 327.1h2.0v2.0h-2.0zM322.2 329.4h2.0v2.0h-2.0zM306.1 329.0h2.0v2.0h-2.0zM201.8 329.3h2.0v2.0h-2.0zM222.2 332.4h2.0v2.0h-2.0zM218.7 329.6h2.0v2.0h-2.0zM487.7 330.5h2.0v2.0h-2.0zM428.4 326.9h2.0v2.0h-2.0zM465.9 329.5h2.0v2.0h-2.0zM378.4 330.1h2.0v2.0h-2.0zM426.8 331.8h2.0v2.0h-2.0zM404.5 328.5h2.0v2.0h-2.0zM390.1 330.1h2.0v2.0h-2.0zM216.9 331.4h2.0v2.0h-2.0zM413.4 325.0h2.0v2.0h-2.0zM431.8 327.4h2.0v2.0h-2.0zM426.1 328.0h2.0v2.0h-2.0zM269.7 331.6h2.0v2.0h-2.0zM210.8 328.6h2.0v2.0h-2.0zM427.0 329.1h2.0v2.0h-2.0zM237.2 333.0h2.0v2.0h-2.0zM249.7 324.8h2.0v2.0h-2.0zM402.2 329.4h2.0v2.0h-2.0zM425.9 330.0h2.0v2.0h-2.0zM439.4 326.3h2.0v2.0h-2.0zM201.5 327.0h2.0v2.0h-2.0zM365.0 326.1h2.0v2.0h-2.0zM428.8 321.9h2.0v2.0h-2.0zM435.1 329.2h2.0v2.0h-2.0zM368.2 327.4h2.0v2.0h-2.0zM287.4 329.7h2.0v2.0h-2.0zM372.9 329.0h2.0v2.0h-2.0zM399.3 330.0h2.0v2.0h-2.0zM386.3 329.5h2.0v2.0h-2.0zM186.8 328.2h2.0v2.0h-2.0zM232.8 328.5h2.0v2.0h-2.0zM245.7 334.2h2.0v2.0h-2.0zM370.0 330.8h2.0v2.0h-2.0zM481.2 327.9h2.0v2.0h-2.0zM491.8 330.6h2.0v2.0h-2.0zM343.2 323.0h2.0v2.0h-2.0zM477.8 325.7h2.0v2.0h-2.0zM286.9 330.2h2.0v2.0h-2.0zM351.4 330.7h2.0v2.0h-2.0zM472.5 327.4h2.0v2.0h-2.0zM388.0 331.7h2.0v2.0h-2.0zM481.9 330.5h2.0v2.0h-2.0zM386.4 327.9h2.0v2.0h-2.0zM391.3 327.7h2.0v2.0h-2.0zM333.9 333.5h2.0v2.0h-2.0zM393.6 333.3h2.0v2.0h-2.0zM317.7 329.2h2.0v2.0h-2.0zM414.9 325.4h2.0v2.0h-2.0zM217.6 333.2h2.0v2.0h-2.0zM362.7 328.0h2.0v2.0h-2.0zM188.5 326.6h2.0v2.0h-2.0zM263.9 331.3h2.0v2.0h-2.0zM267.2 327.2h2.0v2.0h-2.0zM382.4 328.6h2.0v2.0h-2.0zM391.3 325.4h2.0v2.0h-2.0zM395.9 332.7h2.0v2.0h-2.0zM225.6 325.8h2.0v2.0h-2.0zM285.3 327.5h2.0v2.0h-2.0zM339.6 330.0h2.0v2.0h-2.0zM228.4 328.4h2.0v2.0h-2.0zM190.7 328.6h2.0v2.0h-2.0zM483.3 331.1h2.0v2.0h-2.0zM273.1 330.4h2.0v2.0h-2.0zM314.6 328.7h2.0v2.0h-2.0zM257.3 327.6h2.0v2.0h-2.0zM259.4 330.4h2.0v2.0h-2.0zM466.1 325.6h2.0v2.0h-2.0zM424.2 330.4h2.0v2.0h-2.0zM222.4 329.3h2.0v2.0h-2.0zM389.4 326.9h2.0v2.0h-2.0zM262.2 326.3h2.0v2.0h-2.0zM266.3 332.6h2.0v2.0h-2.0zM257.1 329.3h2.0v2.0h-2.0zM355.9 328.6h2.0v2.0h-2.0zM476.1 329.0h2.0v2.0h-2.0zM416.2 330.7h2.0v2.0h-2.0zM306.4 329.5h2.0v2.0h-2.0zM381.1 328.3h2.0v2.0h-2.0zM377.6 327.9h2.0v2.0h-2.0zM476.3 326.0h2.0v2.0h-2.0zM283.5 326.4h2.0v2.0h-2.0zM233.3 331.4h2.0v2.0h-2.0zM344.7 326.2h2.0v2.0h-2.0zM216.5 328.8h2.0v2.0h-2.0zM194.7 327.2h2.0v2.0h-2.0zM388.5 330.4h2.0v2.0h-2.0zM303.5 327.7h2.0v2.0h-2.0zM427.4 328.5h2.0v2.0h-2.0zM222.2 327.6h2.0v2.0h-2.0zM462.7 326.2h2.0v2.0h-2.0zM412.7 330.4h2.0v2.0h-2.0zM215.8 326.6h2.0v2.0h-2.0zM400.1 329.8h2.0v2.0h-2.0zM438.9 328.1h2.0v2.0h-2.0zM242.1 329.3h2.0v2.0h-2.0zM487.4 330.1h2.0v2.0h-2.0zM289.3 328.9h2.0v2.0h-2.0zM278.2 330.2h2.0v2.0h-2.0zM218.2 329.1h2.0v2.0h-2.0zM352.2 329.9h2.0v2.0h-2.0zM186.2 329.6h2.0v2.0h-2.0zM376.2 328.3h2.0v2.0h-2.0zM280.1 327.9h2.0v2.0h-2.0zM240.8 328.6h2.0v2.0h-2.0zM433.9 328.7h2.0v2.0h-2.0zM182.6 329.1h2.0v2.0h-2.0zM310.0 331.8h2.0v2.0h-2.0zM361.8 330.3h2.0v2.0h-2.0zM338.4 328.0h2.0v2.0h-2.0zM494.1 328.4h2.0v2.0h-2.0zM483.0 327.8h2.0v2.0h-2.0zM216.5 334.3h2.0v2.0h-2.0zM393.3 328.6h2.0v2.0h-2.0zM234.6 327.1h2.0v2.0h-2.0zM264.5 330.3h2.0v2.0h-2.0zM314.7 332.2h2.0v2.0h-2.0zM400.1 329.7h2.0v2.0h-2.0zM399.3 330.7h2.0v2.0h-2.0zM414.2 333.4h2.0v2.0h-2.0zM405.2 323.5h2.0v2.0h-2.0zM177.7 331.3h2.0v2.0h-2.0zM258.4 326.8h2.0v2.0h-2.0zM226.2 325.0h2.0v2.0h-2.0zM187.7 324.6h2.0v2.0h-2.0zM287.9 332.1h2.0v2.0h-2.0zM206.4 327.0h2.0v2.0h-2.0zM223.0 329.6h2.0v2.0h-2.0zM467.1 327.0h2.0v2.0h-2.0zM326.8 329.6h2.0v2.0h-2.0zM354.9 328.2h2.0v2.0h-2.0zM240.9 329.2h2.0v2.0h-2.0zM402.2 329.6h2.0v2.0h-2.0zM489.2 326.2h2.0v2.0h-2.0zM434.9 330.4h2.0v2.0h-2.0zM216.6 330.6h2.0v2.0h-2.0zM295.5 333.5h2.0v2.0h-2.0zM426.6 328.6h2.0v2.0h-2.0zM345.5 325.4h2.0v2.0h-2.0zM374.6 330.9h2.0v2.0h-2.0zM239.7 327.7h2.0v2.0h-2.0zM465.1 328.5h2.0v2.0h-2.0zM214.1 329.8h2.0v2.0h-2.0zM320.4 326.7h2.0v2.0h-2.0zM315.0 331.8h2.0v2.0h-2.0zM190.8 327.2h2.0v2.0h-2.0zM403.3 329.6h2.0v2.0h-2.0zM382.6 328.4h2.0v2.0h-2.0zM466.2 327.1h2.0v2.0h-2.0zM193.7 329.6h2.0v2.0h-2.0zM299.8 335.1h2.0v2.0h-2.0zM438.8 321.7h2.0v2.0h-2.0zM487.8 326.7h2.0v2.0h-2.0zM185.7 330.6h2.0v2.0h-2.0zM244.2 329.6h2.0v2.0h-2.0zM473.1 326.3h2.0v2.0h-2.0zM222.9 332.3h2.0v2.0h-2.0zM206.9 332.3h2.0v2.0h-2.0zM433.4 328.7h2.0v2.0h-2.0zM338.4 331.9h2.0v2.0h-2.0zM468.5 333.8h2.0v2.0h-2.0zM352.5 330.2h2.0v2.0h-2.0zM364.9 327.1h2.0v2.0h-2.0zM198.5 331.5h2.0v2.0h-2.0zM301.3 332.1h2.0v2.0h-2.0zM181.2 330.9h2.0v2.0h-2.0zM212.8 326.0h2.0v2.0h-2.0zM240.2 328.3h2.0v2.0h-2.0zM349.3 329.6h2.0v2.0h-2.0zM203.8 328.7h2.0v2.0h-2.0zM206.1 325.3h2.0v2.0h-2.0zM271.0 329.3h2.0v2.0h-2.0zM488.6 328.1h2.0v2.0h-2.0zM175.7 330.1h2.0v2.0h-2.0zM366.3 329.6h2.0v2.0h-2.0zM320.2 326.9h2.0v2.0h-2.0zM468.6 330.7h2.0v2.0h-2.0zM430.0 332.4h2.0v2.0h-2.0zM183.3 327.2h2.0v2.0h-2.0zM447.2 325.5h2.0v2.0h-2.0zM477.0 330.9h2.0v2.0h-2.0zM401.0 329.2h2.0v2.0h-2.0zM277.9 330.9h2.0v2.0h-2.0zM316.1 332.1h2.0v2.0h-2.0zM419.0 328.8h2.0v2.0h-2.0zM493.6 329.2h2.0v2.0h-2.0zM306.3 323.9h2.0v2.0h-2.0zM458.9 330.7h2.0v2.0h-2.0zM423.0 328.3h2.0v2.0h-2.0zM429.3 328.3h2.0v2.0h-2.0zM274.5 329.0h2.0v2.0h-2.0zM291.7 324.1h2.0v2.0h-2.0zM344.4 328.0h2.0v2.0h-2.0zM346.8 331.1h2.0v2.0h-2.0zM395.6 328.4h2.0v2.0h-2.0zM202.3 329.6h2.0v2.0h-2.0zM177.9 330.8h2.0v2.0h-2.0zM404.0 330.4h2.0v2.0h-2.0zM394.7 329.1h2.0v2.0h-2.0zM413.7 329.2h2.0v2.0h-2.0zM182.4 327.7h2.0v2.0h-2.0zM240.8 328.9h2.0v2.0h-2.0zM363.8 334.3h2.0v2.0h-2.0zM366.0 321.3h2.0v2.0h-2.0zM178.2 327.6h2.0v2.0h-2.0zM219.3 331.0h2.0v2.0h-2.0zM394.9 330.7h2.0v2.0h-2.0zM421.2 329.6h2.0v2.0h-2.0zM305.2 330.0h2.0v2.0h-2.0zM316.7 329.1h2.0v2.0h-2.0zM283.7 328.3h2.0v2.0h-2.0zM183.4 329.9h2.0v2.0h-2.0zM432.0 327.9h2.0v2.0h-2.0zM262.9 330.5h2.0v2.0h-2.0zM224.4 329.3h2.0v2.0h-2.0zM362.5 328.5h2.0v2.0h-2.0zM204.7 328.1h2.0v2.0h-2.0zM296.8 327.7h2.0v2.0h-2.0zM194.3 333.8h2.0v2.0h-2.0zM215.4 331.0h2.0v2.0h-2.0zM218.0 328.7h2.0v2.0h-2.0zM254.5 327.6h2.0v2.0h-2.0zM253.4 331.0h2.0v2.0h-2.0zM265.3 326.7h2.0v2.0h-2.0zM235.9 331.5h2.0v2.0h-2.0zM297.2 327.3h2.0v2.0h-2.0zM453.5 330.8h2.0v2.0h-2.0zM442.8 329.2h2.0v2.0h-2.0zM210.8 329.7h2.0v2.0h-2.0zM402.6 330.0h2.0v2.0h-2.0zM229.4 329.7h2.0v2.0h-2.0zM315.2 329.7h2.0v2.0h-2.0zM324.6 329.7h2.0v2.0h-2.0zM352.1 330.5h2.0v2.0h-2.0zM354.7 329.8h2.0v2.0h-2.0zM483.4 329.8h2.0v2.0h-2.0zM342.5 328.4h2.0v2.0h-2.0zM228.4 330.1h2.0v2.0h-2.0zM258.9 328.1h2.0v2.0h-2.0zM321.9 329.1h2.0v2.0h-2.0zM275.8 328.4h2.0v2.0h-2.0zM386.9 328.5h2.0v2.0h-2.0zM328.5 330.0h2.0v2.0h-2.0zM177.0 327.7h2.0v2.0h-2.0zM411.9 327.2h2.0v2.0h-2.0zM248.9 326.5h2.0v2.0h-2.0zM220.2 329.2h2.0v2.0h-2.0zM478.0 328.9h2.0v2.0h-2.0zM464.2 325.2h2.0v2.0h-2.0zM246.5 325.7h2.0v2.0h-2.0zM243.3 327.2h2.0v2.0h-2.0zM218.7 330.4h2.0v2.0h-2.0zM476.0 332.3h2.0v2.0h-2.0zM392.2 334.0h2.0v2.0h-2.0zM327.1 329.6h2.0v2.0h-2.0zM478.8 323.0h2.0v2.0h-2.0zM243.2 329.5h2.0v2.0h-2.0zM238.5 331.4h2.0v2.0h-2.0zM483.0 329.2h2.0v2.0h-2.0zM304.5 326.2h2.0v2.0h-2.0zM225.7 331.7h2.0v2.0h-2.0zM173.5 328.0h2.0v2.0h-2.0zM354.4 328.2h2.0v2.0h-2.0zM217.8 329.2h2.0v2.0h-2.0zM221.5 330.2h2.0v2.0h-2.0zM341.6 323.9h2.0v2.0h-2.0zM227.4 327.1h2.0v2.0h-2.0zM319.2 325.7h2.0v2.0h-2.0zM450.5 331.4h2.0v2.0h-2.0zM260.1 334.8h2.0v2.0h-2.0zM207.0 324.8h2.0v2.0h-2.0zM266.5 333.1h2.0v2.0h-2.0zM343.9 328.3h2.0v2.0h-2.0zM433.3 327.8h2.0v2.0h-2.0zM252.0 327.2h2.0v2.0h-2.0zM362.3 330.5h2.0v2.0h-2.0zM235.5 334.5h2.0v2.0h-2.0zM357.1 330.5h2.0v2.0h-2.0zM249.7 332.0h2.0v2.0h-2.0zM342.2 328.8h2.0v2.0h-2.0zM374.5 328.5h2.0v2.0h-2.0zM389.9 329.3h2.0v2.0h-2.0zM391.8 328.9h2.0v2.0h-2.0zM382.0 331.3h2.0v2.0h-2.0zM248.5 333.7h2.0v2.0h-2.0zM481.9 329.7h2.0v2.0h-2.0zM463.3 331.2h2.0v2.0h-2.0zM410.2 327.3h2.0v2.0h-2.0zM214.6 331.5h2.0v2.0h-2.0zM242.7 329.1h2.0v2.0h-2.0zM304.3 329.7h2.0v2.0h-2.0zM198.5 325.0h2.0v2.0h-2.0zM288.0 326.8h2.0v2.0h-2.0zM314.3 331.0h2.0v2.0h-2.0zM225.3 331.2h2.0v2.0h-2.0zM483.4 329.6h2.0v2.0h-2.0zM377.8 325.4h2.0v2.0h-2.0zM484.6 330.3h2.0v2.0h-2.0zM255.8 332.4h2.0v2.0h-2.0zM367.0 331.6h2.0v2.0h-2.0zM237.3 328.7h2.0v2.0h-2.0zM407.1 323.0h2.0v2.0h-2.0zM397.6 323.9h2.0v2.0h-2.0zM258.9 322.0h2.0v2.0h-2.0zM474.4 323.5h2.0v2.0h-2.0zM221.3 327.9h2.0v2.0h-2.0zM307.9 331.3h2.0v2.0h-2.0zM256.7 330.0h2.0v2.0h-2.0zM202.9 329.5h2.0v2.0h-2.0zM397.8 328.9h2.0v2.0h-2.0zM283.5 332.7h2.0v2.0h-2.0zM234.1 322.6h2.0v2.0h-2.0zM396.5 328.1h2.0v2.0h-2.0zM404.4 329.6h2.0v2.0h-2.0zM203.8 332.7h2.0v2.0h-2.0zM235.1 328.2h2.0v2.0h-2.0zM247.9 325.7h2.0v2.0h-2.0zM387.1 328.2h2.0v2.0h-2.0zM361.0 328.7h2.0v2.0h-2.0zM377.6 329.3h2.0v2.0h-2.0zM345.2 330.7h2.0v2.0h-2.0zM183.4 329.0h2.0v2.0h-2.0zM379.5 327.8h2.0v2.0h-2.0zM371.4 330.3h2.0v2.0h-2.0zM386.8 328.4h2.0v2.0h-2.0zM224.1 329.7h2.0v2.0h-2.0zM404.1 332.6h2.0v2.0h-2.0zM429.3 328.5h2.0v2.0h-2.0zM191.4 330.8h2.0v2.0h-2.0zM202.2 331.5h2.0v2.0h-2.0zM473.5 329.9h2.0v2.0h-2.0zM322.2 329.5h2.0v2.0h-2.0zM341.3 330.1h2.0v2.0h-2.0zM404.1 325.8h2.0v2.0h-2.0zM196.0 328.5h2.0v2.0h-2.0zM329.2 329.1h2.0v2.0h-2.0zM276.0 332.2h2.0v2.0h-2.0zM402.9 329.4h2.0v2.0h-2.0zM472.2 327.3h2.0v2.0h-2.0zM372.7 330.9h2.0v2.0h-2.0zM263.2 335.9h2.0v2.0h-2.0zM466.4 330.7h2.0v2.0h-2.0zM270.1 332.2h2.0v2.0h-2.0zM421.7 328.4h2.0v2.0h-2.0zM203.8 329.5h2.0v2.0h-2.0zM190.0 328.4h2.0v2.0h-2.0zM207.8 322.8h2.0v2.0h-2.0zM344.7 329.8h2.0v2.0h-2.0zM419.8 328.1h2.0v2.0h-2.0zM282.3 330.2h2.0v2.0h-2.0zM211.1 330.2h2.0v2.0h-2.0zM412.0 332.5h2.0v2.0h-2.0zM481.4 326.5h2.0v2.0h-2.0zM266.4 326.1h2.0v2.0h-2.0zM215.2 329.9h2.0v2.0h-2.0zM482.0 332.0h2.0v2.0h-2.0zM253.3 331.5h2.0v2.0h-2.0zM324.6 330.3h2.0v2.0h-2.0zM276.9 329.1h2.0v2.0h-2.0zM413.3 328.5h2.0v2.0h-2.0zM438.1 330.3h2.0v2.0h-2.0zM358.6 332.6h2.0v2.0h-2.0zM463.1 329.4h2.0v2.0h-2.0zM278.8 331.3h2.0v2.0h-2.0zM291.3 326.2h2.0v2.0h-2.0zM287.1 328.5h2.0v2.0h-2.0zM466.3 329.8h2.0v2.0h-2.0zM378.2 331.7h2.0v2.0h-2.0zM469.6 327.0h2.0v2.0h-2.0zM492.5 328.7h2.0v2.0h-2.0zM255.0 325.9h2.0v2.0h-2.0zM296.1 329.8h2.0v2.0h-2.0zM281.8 328.3h2.0v2.0h-2.0zM284.7 331.3h2.0v2.0h-2.0zM218.3 326.0h2.0v2.0h-2.0zM413.1 334.1h2.0v2.0h-2.0zM349.9 326.6h2.0v2.0h-2.0zM282.7 329.9h2.0v2.0h-2.0zM242.4 325.8h2.0v2.0h-2.0zM253.8 332.9h2.0v2.0h-2.0zM246.6 321.3h2.0v2.0h-2.0zM412.1 329.9h2.0v2.0h-2.0zM431.9 331.3h2.0v2.0h-2.0zM273.3 326.3h2.0v2.0h-2.0zM463.2 326.0h2.0v2.0h-2.0zM273.8 331.0h2.0v2.0h-2.0zM362.7 327.3h2.0v2.0h-2.0zM340.4 327.1h2.0v2.0h-2.0zM387.8 329.4h2.0v2.0h-2.0zM290.2 325.9h2.0v2.0h-2.0zM213.7 333.0h2.0v2.0h-2.0zM184.7 327.4h2.0v2.0h-2.0zM311.7 328.0h2.0v2.0h-2.0zM342.1 330.7h2.0v2.0h-2.0zM245.1 326.0h2.0v2.0h-2.0zM431.6 330.0h2.0v2.0h-2.0zM313.1 333.2h2.0v2.0h-2.0zM402.1 330.4h2.0v2.0h-2.0zM279.4 328.6h2.0v2.0h-2.0zM233.6 326.9h2.0v2.0h-2.0zM219.6 328.5h2.0v2.0h-2.0zM495.5 325.9h2.0v2.0h-2.0zM466.6 327.8h2.0v2.0h-2.0zM418.0 330.5h2.0v2.0h-2.0zM240.3 328.2h2.0v2.0h-2.0zM462.9 333.2h2.0v2.0h-2.0zM473.8 326.3h2.0v2.0h-2.0zM219.7 326.7h2.0v2.0h-2.0zM367.4 326.5h2.0v2.0h-2.0zM262.4 327.1h2.0v2.0h-2.0zM203.2 325.6h2.0v2.0h-2.0zM404.3 329.2h2.0v2.0h-2.0zM339.9 327.7h2.0v2.0h-2.0zM367.6 330.3h2.0v2.0h-2.0zM405.6 328.4h2.0v2.0h-2.0zM402.8 328.8h2.0v2.0h-2.0zM471.4 335.3h2.0v2.0h-2.0zM316.0 329.8h2.0v2.0h-2.0zM391.7 329.6h2.0v2.0h-2.0zM321.6 324.7h2.0v2.0h-2.0zM420.3 323.9h2.0v2.0h-2.0zM237.5 330.3h2.0v2.0h-2.0zM271.1 330.9h2.0v2.0h-2.0zM243.8 330.3h2.0v2.0h-2.0zM335.9 329.8h2.0v2.0h-2.0zM327.9 324.2h2.0v2.0h-2.0zM477.7 331.2h2.0v2.0h-2.0zM237.2 328.2h2.0v2.0h-2.0zM197.1 328.6h2.0v2.0h-2.0zM484.9 327.6h2.0v2.0h-2.0zM286.8 330.2h2.0v2.0h-2.0zM299.7 331.5h2.0v2.0h-2.0zM175.5 332.4h2.0v2.0h-2.0zM408.0 327.5h2.0v2.0h-2.0zM302.8 331.4h2.0v2.0h-2.0zM269.5 326.4h2.0v2.0h-2.0zM479.2 328.2h2.0v2.0h-2.0zM291.3 331.3h2.0v2.0h-2.0zM391.6 326.3h2.0v2.0h-2.0zM477.7 327.2h2.0v2.0h-2.0zM210.6 328.6h2.0v2.0h-2.0zM431.2 330.9h2.0v2.0h-2.0zM333.1 329.5h2.0v2.0h-2.0zM461.7 327.7h2.0v2.0h-2.0zM379.3 331.2h2.0v2.0h-2.0zM280.6 327.1h2.0v2.0h-2.0zM257.4 331.0h2.0v2.0h-2.0zM298.3 326.3h2.0v2.0h-2.0zM262.3 332.5h2.0v2.0h-2.0zM438.0 323.3h2.0v2.0h-2.0zM192.6 331.8h2.0v2.0h-2.0zM220.8 329.3h2.0v2.0h-2.0zM409.6 329.9h2.0v2.0h-2.0zM466.6 331.6h2.0v2.0h-2.0zM202.3 328.4h2.0v2.0h-2.0zM313.2 330.3h2.0v2.0h-2.0zM297.7 332.3h2.0v2.0h-2.0zM454.6 329.2h2.0v2.0h-2.0zM185.7 322.2h2.0v2.0h-2.0zM180.5 328.4h2.0v2.0h-2.0zM225.7 326.5h2.0v2.0h-2.0zM369.7 326.7h2.0v2.0h-2.0zM488.7 324.5h2.0v2.0h-2.0zM299.3 329.1h2.0v2.0h-2.0zM493.8 330.6h2.0v2.0h-2.0zM229.9 329.7h2.0v2.0h-2.0zM410.9 328.7h2.0v2.0h-2.0zM392.7 331.3h2.0v2.0h-2.0zM358.9 329.6h2.0v2.0h-2.0zM457.3 327.7h2.0v2.0h-2.0zM477.2 328.1h2.0v2.0h-2.0zM468.1 328.2h2.0v2.0h-2.0zM296.9 328.8h2.0v2.0h-2.0zM175.0 330.3h2.0v2.0h-2.0zM175.3 325.9h2.0v2.0h-2.0zM306.8 327.9h2.0v2.0h-2.0zM305.1 326.9h2.0v2.0h-2.0zM481.2 331.7h2.0v2.0h-2.0zM294.7 328.0h2.0v2.0h-2.0zM86.7 326.5h2.0v2.0h-2.0z" fill="#154a7e"/>
<path d="M104.5 333.4h2.0v2.0h-2.0zM103.2 328.6h2.0v2.0h-2.0zM105.8 331.6h2.0v2.0h-2.0zM102.2 330.6h2.0v2.0h-2.0zM94.5 331.4h2.0v2.0h-2.0zM103.8 331.6h2.0v2.0h-2.0zM98.1 331.6h2.0v2.0h-2.0zM91.8 337.3h2.0v2.0h-2.0zM104.9 332.4h2.0v2.0h-2.0zM102.3 331.1h2.0v2.0h-2.0zM99.4 334.8h2.0v2.0h-2.0zM97.1 330.8h2.0v2.0h-2.0zM104.9 335.6h2.0v2.0h-2.0zM92.1 334.4h2.0v2.0h-2.0zM94.8 335.7h2.0v2.0h-2.0zM97.3 335.3h2.0v2.0h-2.0zM101.7 332.2h2.0v2.0h-2.0zM100.5 335.9h2.0v2.0h-2.0zM92.0 328.9h2.0v2.0h-2.0zM93.8 332.5h2.0v2.0h-2.0zM100.6 332.0h2.0v2.0h-2.0zM104.7 334.5h2.0v2.0h-2.0zM105.1 334.7h2.0v2.0h-2.0zM99.3 332.3h2.0v2.0h-2.0zM103.0 332.5h2.0v2.0h-2.0zM103.9 330.0h2.0v2.0h-2.0zM96.7 334.7h2.0v2.0h-2.0zM92.3 331.6h2.0v2.0h-2.0zM102.1 334.4h2.0v2.0h-2.0zM91.3 335.0h2.0v2.0h-2.0zM105.8 328.9h2.0v2.0h-2.0zM92.5 331.5h2.0v2.0h-2.0zM100.4 331.2h2.0v2.0h-2.0zM103.1 333.5h2.0v2.0h-2.0zM91.0 331.5h2.0v2.0h-2.0zM103.7 332.5h2.0v2.0h-2.0zM104.3 334.8h2.0v2.0h-2.0zM97.7 332.9h2.0v2.0h-2.0zM101.6 332.1h2.0v2.0h-2.0zM104.9 330.4h2.0v2.0h-2.0zM93.4 335.0h2.0v2.0h-2.0zM92.3 335.4h2.0v2.0h-2.0zM93.4 330.4h2.0v2.0h-2.0zM93.0 332.4h2.0v2.0h-2.0zM104.9 328.6h2.0v2.0h-2.0zM94.4 333.0h2.0v2.0h-2.0zM104.6 333.2h2.0v2.0h-2.0zM100.0 337.1h2.0v2.0h-2.0zM105.5 332.8h2.0v2.0h-2.0zM98.7 329.3h2.0v2.0h-2.0zM103.7 331.4h2.0v2.0h-2.0zM104.6 332.7h2.0v2.0h-2.0zM103.0 330.9h2.0v2.0h-2.0zM94.1 329.1h2.0v2.0h-2.0zM97.7 334.9h2.0v2.0h-2.0zM104.8 327.3h2.0v2.0h-2.0zM93.0 331.3h2.0v2.0h-2.0zM96.8 329.8h2.0v2.0h-2.0zM93.1 334.0h2.0v2.0h-2.0zM98.1 334.3h2.0v2.0h-2.0zM94.6 330.5h2.0v2.0h-2.0zM102.3 334.4h2.0v2.0h-2.0zM99.6 334.8h2.0v2.0h-2.0zM96.2 336.3h2.0v2.0h-2.0zM105.4 333.6h2.0v2.0h-2.0zM99.5 332.2h2.0v2.0h-2.0zM105.5 330.3h2.0v2.0h-2.0zM95.3 334.2h2.0v2.0h-2.0zM90.9 332.7h2.0v2.0h-2.0zM94.9 333.5h2.0v2.0h-2.0zM100.2 327.4h2.0v2.0h-2.0zM101.1 330.3h2.0v2.0h-2.0zM96.1 335.3h2.0v2.0h-2.0zM98.9 331.4h2.0v2.0h-2.0zM103.8 331.4h2.0v2.0h-2.0zM99.9 330.6h2.0v2.0h-2.0zM95.1 334.0h2.0v2.0h-2.0zM105.6 332.1h2.0v2.0h-2.0zM91.5 335.2h2.0v2.0h-2.0zM93.7 332.6h2.0v2.0h-2.0zM98.3 335.5h2.0v2.0h-2.0zM100.9 335.2h2.0v2.0h-2.0zM101.1 338.5h2.0v2.0h-2.0zM101.0 329.3h2.0v2.0h-2.0zM101.5 333.1h2.0v2.0h-2.0zM97.1 332.4h2.0v2.0h-2.0zM105.5 331.3h2.0v2.0h-2.0zM90.6 335.0h2.0v2.0h-2.0zM96.9 334.8h2.0v2.0h-2.0zM103.3 330.7h2.0v2.0h-2.0zM90.7 332.8h2.0v2.0h-2.0zM103.4 333.7h2.0v2.0h-2.0zM92.1 334.0h2.0v2.0h-2.0zM104.1 331.7h2.0v2.0h-2.0zM98.5 329.8h2.0v2.0h-2.0zM89.6 339.4h2.0v2.0h-2.0zM88.8 342.7h2.0v2.0h-2.0zM89.8 345.8h2.0v2.0h-2.0zM90.3 336.2h2.0v2.0h-2.0zM89.4 336.6h2.0v2.0h-2.0zM87.3 339.0h2.0v2.0h-2.0zM87.9 345.9h2.0v2.0h-2.0zM88.6 345.9h2.0v2.0h-2.0zM89.1 336.8h2.0v2.0h-2.0zM87.1 343.0h2.0v2.0h-2.0zM88.4 344.9h2.0v2.0h-2.0zM89.3 337.8h2.0v2.0h-2.0zM90.3 336.6h2.0v2.0h-2.0zM87.6 341.5h2.0v2.0h-2.0zM87.2 340.5h2.0v2.0h-2.0zM86.8 341.3h2.0v2.0h-2.0zM87.3 341.0h2.0v2.0h-2.0zM92.0 335.1h2.0v2.0h-2.0zM89.4 337.6h2.0v2.0h-2.0zM87.9 343.3h2.0v2.0h-2.0zM90.4 337.6h2.0v2.0h-2.0zM89.8 336.0h2.0v2.0h-2.0zM88.5 338.7h2.0v2.0h-2.0zM88.0 343.4h2.0v2.0h-2.0zM89.2 344.2h2.0v2.0h-2.0zM86.2 340.0h2.0v2.0h-2.0zM90.0 349.2h2.0v2.0h-2.0zM97.5 324.0h2.0v2.0h-2.0zM104.2 323.5h2.0v2.0h-2.0zM96.0 339.5h2.0v2.0h-2.0zM90.2 346.0h2.0v2.0h-2.0z" fill="#3cb24a"/>
<line x1="90.5" y1="362" x2="90.5" y2="375.8" stroke="#c8102e" stroke-width="1.5"/>
<path d="M90.50 352.50L84.75 365.80L90.50 362.87L96.25 365.80Z" fill="#c8102e"/>
<rect x="52.6" y="463.4" width="101" height="24.6" fill="#20a7e0"/>
<rect x="153.6" y="463.4" width="112.8" height="24.6" fill="#cd1032"/>
<rect x="266.4" y="463.4" width="214.7" height="24.6" fill="#39a84a"/>
<rect x="52.6" y="463.4" width="428.5" height="24.6" fill="none" stroke="#1f2f3a" stroke-width="0.9"/>
<line x1="153.6" y1="463.4" x2="153.6" y2="488" stroke="#1a2238" stroke-width="1.1" stroke-dasharray="1.3 1.2"/>
<line x1="266.4" y1="463.4" x2="266.4" y2="488" stroke="#1a2238" stroke-width="1.1" stroke-dasharray="1.3 1.2"/>
<line x1="112.8" y1="434.5" x2="112.8" y2="448" stroke="#bdbdbd" stroke-width="2"/>
<path d="M112.80 459.50L105.80 443.50L112.80 447.02L119.80 443.50Z" fill="#bdbdbd"/>
<line x1="124" y1="434.5" x2="124" y2="448" stroke="#bdbdbd" stroke-width="2"/>
<path d="M124.00 459.50L117.00 443.50L124.00 447.02L131.00 443.50Z" fill="#bdbdbd"/>
<line x1="135.5" y1="434.5" x2="135.5" y2="448" stroke="#bdbdbd" stroke-width="2"/>
<path d="M135.50 459.50L128.50 443.50L135.50 447.02L142.50 443.50Z" fill="#bdbdbd"/>
<line x1="78" y1="427.5" x2="78" y2="448" stroke="#111" stroke-width="2"/>
<path d="M78.00 459.50L71.00 443.50L78.00 447.02L85.00 443.50Z" fill="#111"/>
<line x1="146.5" y1="425.5" x2="146.5" y2="448" stroke="#111" stroke-width="2"/>
<path d="M146.50 459.50L139.50 443.50L146.50 447.02L153.50 443.50Z" fill="#111"/>
<line x1="169.6" y1="427.6" x2="169.6" y2="448" stroke="#111" stroke-width="2"/>
<path d="M169.60 459.50L162.60 443.50L169.60 447.02L176.60 443.50Z" fill="#111"/>
<line x1="196.4" y1="427.6" x2="196.4" y2="448" stroke="#111" stroke-width="2"/>
<path d="M196.40 459.50L189.40 443.50L196.40 447.02L203.40 443.50Z" fill="#111"/>
<text transform="translate(67.76 422.00) scale(0.9412 1)" font-size="8.7" fill="#1e1e1e" stroke="#1e1e1e" stroke-width="0.06" >Y13D</text>
<text transform="translate(136.54 415.00) scale(0.9268 1)" font-size="8.7" fill="#1e1e1e" stroke="#1e1e1e" stroke-width="0.06" >C37F</text>
<text transform="translate(160.56 422.40) scale(0.8767 1)" font-size="8.7" fill="#1e1e1e" stroke="#1e1e1e" stroke-width="0.06" >S48*</text>
<text transform="translate(186.51 415.00) scale(0.9870 1)" font-size="8.7" fill="#1e1e1e" stroke="#1e1e1e" stroke-width="0.06" >G61*</text>
<text transform="translate(81.84 497.80) scale(0.8745 1)" font-size="8.7" fill="#1e1e1e" stroke="#1e1e1e" stroke-width="0.06" >Extracellular</text>
<text transform="translate(182.18 497.80) scale(0.8797 1)" font-size="8.7" fill="#1e1e1e" stroke="#1e1e1e" stroke-width="0.06" >Transmembrane</text>
<text transform="translate(336.03 497.60) scale(0.8979 1)" font-size="8.7" fill="#1e1e1e" stroke="#1e1e1e" stroke-width="0.06" >TRAF binding domain</text>
<rect x="7" y="552" width="490" height="2.6" fill="#1f9ad6"/>
<rect x="22.70" y="544.4" width="2.6" height="8" fill="#1f9ad6"/>
<rect x="92.20" y="544.4" width="2.6" height="8" fill="#1f9ad6"/>
<rect x="161.70" y="544.4" width="2.6" height="8" fill="#1f9ad6"/>
<rect x="233.70" y="544.4" width="2.6" height="8" fill="#1f9ad6"/>
<rect x="304.10" y="544.4" width="2.6" height="8" fill="#1f9ad6"/>
<rect x="372.70" y="544.4" width="2.6" height="8" fill="#1f9ad6"/>
<rect x="442.20" y="544.4" width="2.6" height="8" fill="#1f9ad6"/>
<line x1="263.2" y1="533.3" x2="263.2" y2="547" stroke="#4a9cc0" stroke-width="1.1"/>
<path d="M263.20 551.60L259.90 544.20L263.20 546.79L266.50 544.20Z" fill="#2596bd"/>
<line x1="468.3" y1="533.3" x2="468.3" y2="547" stroke="#4a9cc0" stroke-width="1.1"/>
<path d="M468.30 551.60L465.00 544.20L468.30 546.79L471.60 544.20Z" fill="#2596bd"/>
<line x1="7.00" y1="571.5" x2="53.10" y2="571.5" stroke="#222" stroke-width="1.2"/>
<path d="M57.00 571.50L49.20 568.30L51.93 571.50L49.20 574.70Z" fill="#111"/>
<line x1="72.20" y1="571.5" x2="122.10" y2="571.5" stroke="#222" stroke-width="1.2"/>
<path d="M68.30 571.50L76.10 568.30L73.37 571.50L76.10 574.70Z" fill="#111"/>
<path d="M126.00 571.50L118.20 568.30L120.93 571.50L118.20 574.70Z" fill="#111"/>
<line x1="147.90" y1="571.5" x2="186.60" y2="571.5" stroke="#222" stroke-width="1.2"/>
<path d="M144.00 571.50L151.80 568.30L149.07 571.50L151.80 574.70Z" fill="#111"/>
<path d="M190.50 571.50L182.70 568.30L185.43 571.50L182.70 574.70Z" fill="#111"/>
<line x1="191.90" y1="571.5" x2="238.10" y2="571.5" stroke="#7b5a9a" stroke-width="1.2"/>
<path d="M188.00 571.50L195.80 568.30L193.07 571.50L195.80 574.70Z" fill="#4f2a78"/>
<path d="M242.00 571.50L234.20 568.30L236.93 571.50L234.20 574.70Z" fill="#4f2a78"/>
<line x1="245.80" y1="571.5" x2="252.20" y2="571.5" stroke="#f6d0d8" stroke-width="1.2"/>
<path d="M243.00 571.50L248.60 568.30L246.92 571.50L248.60 574.70Z" fill="#c0143c"/>
<path d="M255.00 571.50L249.40 568.30L251.08 571.50L249.40 574.70Z" fill="#c0143c"/>
<path d="M254.8 571.5L259.70000000000005 568.1L259.70000000000005 568.1L259.70000000000005 568.1L264.6 571.5L259.70000000000005 574.9L259.70000000000005 574.9L259.70000000000005 574.9Z" fill="#111"/>
<path d="M264.4 571.5L268.34999999999997 568.3L269.54999999999995 569.02L270.74999999999994 568.3L274.7 571.5L270.74999999999994 574.7L269.54999999999995 573.98L268.34999999999997 574.7Z" fill="#c0143c"/>
<path d="M291 571.5L297.2 568.3L298.0 568.78L298.8 568.3L305 571.5L298.8 574.7L298.0 574.22L297.2 574.7Z" fill="#c0143c"/>
<line x1="455.10" y1="571.5" x2="460.80" y2="571.5" stroke="#f6d0d8" stroke-width="1.2"/>
<path d="M452.30 571.50L457.90 568.30L456.22 571.50L457.90 574.70Z" fill="#c0143c"/>
<path d="M463.60 571.50L458.00 568.30L459.68 571.50L458.00 574.70Z" fill="#c0143c"/>
<line x1="466.80" y1="571.5" x2="480.20" y2="571.5" stroke="#c0143c" stroke-width="1.2"/>
<path d="M464.00 571.50L469.60 568.30L467.92 571.50L469.60 574.70Z" fill="#c0143c"/>
<path d="M483.00 571.50L477.40 568.30L479.08 571.50L477.40 574.70Z" fill="#c0143c"/>
<line x1="485.90" y1="571.5" x2="504.90" y2="571.5" stroke="#3aa04a" stroke-width="1.2"/>
<path d="M482.50 571.50L489.30 568.30L487.26 571.50L489.30 574.70Z" fill="#34a048"/>
<path d="M508.30 571.50L501.50 568.30L503.54 571.50L501.50 574.70Z" fill="#34a048"/>
<circle cx="249" cy="571.5" r="0.65" fill="#fff"/>
<circle cx="259.7" cy="571.5" r="0.65" fill="#fff"/>
<circle cx="298" cy="571.5" r="0.65" fill="#fff"/>
<circle cx="458" cy="571.5" r="0.65" fill="#fff"/>
<text transform="translate(10.78 538.90) scale(0.8966 1)" font-size="8.7" fill="#1e1e1e" stroke="#1e1e1e" stroke-width="0.06" >Year 12</text>
<text transform="translate(79.98 538.90) scale(0.9000 1)" font-size="8.7" fill="#1e1e1e" stroke="#1e1e1e" stroke-width="0.06" >Year 13</text>
<text transform="translate(148.08 538.90) scale(0.8957 1)" font-size="8.7" fill="#1e1e1e" stroke="#1e1e1e" stroke-width="0.06" >Year 14</text>
<text transform="translate(221.78 538.90) scale(0.8966 1)" font-size="8.7" fill="#1e1e1e" stroke="#1e1e1e" stroke-width="0.06" >Year 15</text>
<text transform="translate(292.47 538.90) scale(0.9000 1)" font-size="8.7" fill="#1e1e1e" stroke="#1e1e1e" stroke-width="0.06" >Year 16</text>
<text transform="translate(361.47 538.90) scale(0.9000 1)" font-size="8.7" fill="#1e1e1e" stroke="#1e1e1e" stroke-width="0.06" >Year 17</text>
<text transform="translate(429.97 538.90) scale(0.9000 1)" font-size="8.7" fill="#1e1e1e" stroke="#1e1e1e" stroke-width="0.06" >Year 18</text>
<text transform="translate(25.00 566.70) scale(0.8780 1)" font-size="8.7" fill="#1e1e1e" stroke="#1e1e1e" stroke-width="0.06" >Vd</text>
<text transform="translate(79.32 566.80) scale(0.9007 1)" font-size="8.7" fill="#1e1e1e" stroke="#1e1e1e" stroke-width="0.06" >Pom-Pred</text>
<text transform="translate(155.11 566.60) scale(0.9149 1)" font-size="8.7" fill="#1e1e1e" stroke="#1e1e1e" stroke-width="0.06" >Elo-Rd</text>
<text transform="translate(203.91 566.60) scale(0.9221 1)" font-size="8.7" fill="#5e3a7e" stroke="#5e3a7e" stroke-width="0.06" >Da-Rd</text>
<text transform="translate(255.29 566.80) scale(0.9474 1)" font-size="8.7" fill="#1e1e1e" stroke="#1e1e1e" stroke-width="0.06" >Kd</text>
<text transform="translate(286.67 566.80) scale(0.8654 1)" font-size="8.7" fill="#c0143c" stroke="#c0143c" stroke-width="0.06" >CAR-T</text>
<text transform="translate(453.78 566.80) scale(0.8846 1)" font-size="8.7" fill="#c0143c" stroke="#c0143c" stroke-width="0.06" >Tec</text>
<text transform="translate(488.19 566.80) scale(0.8262 1)" font-size="8.7" fill="#3aa04a" stroke="#3aa04a" stroke-width="0.06" >Talq</text>
<text transform="translate(250.3 574.8) rotate(52)" font-size="8" fill="#c0143c" dy="5.6">Blenrep</text>
<text transform="translate(475.4 574.6) rotate(50)" font-size="8" fill="#c0143c" dy="5.6">NK-CAR-d</text>
<rect x="24" y="589.5" width="110" height="70.7" fill="#fff" stroke="#444" stroke-width="1"/>
<text transform="translate(27.94 603.40) scale(0.9215 1)" font-size="8.7" fill="#5e3a7e" stroke="#5e3a7e" stroke-width="0.06" >CD38-targeted treatment</text>
<text transform="translate(27.71 616.30) scale(0.9221 1)" font-size="8.7" fill="#c0143c" stroke="#c0143c" stroke-width="0.06" >BCMA-targeted treatment</text>
<text transform="translate(27.94 629.90) scale(0.9187 1)" font-size="8.7" fill="#3aa04a" stroke="#3aa04a" stroke-width="0.06" >GPRC5D-targeted treatment</text>
<line x1="33" y1="639" x2="33" y2="652" stroke="#5ab4dc" stroke-width="1.4"/>
<path d="M33.00 656.50L29.90 649.00L33.00 651.62L36.10 649.00Z" fill="#2598c8"/>
<text transform="translate(39.75 648.70) scale(0.9088 1)" font-size="8.7" fill="#37a3d9" stroke="#37a3d9" stroke-width="0.06" >Sample sequenced</text>
<path d="M226 631Q244 626.8 258 620.8C259.0 620.6 259.7 619.9 264.0 619.7C268.3 619.5 277.3 619.0 284.0 619.5C290.7 620.0 297.3 621.0 304.0 623.0C310.7 625.0 317.3 628.4 324.0 631.5C330.7 634.6 337.3 638.4 344.0 641.5C350.7 644.6 356.3 647.6 364.0 650.3C371.7 653.0 382.3 655.4 390.0 657.5C397.7 659.6 404.2 660.8 410.0 662.8C415.8 664.8 422.5 668.1 425.0 669.2L425 669.2C422.5 669.0 415.8 668.8 410.0 668.0C404.2 667.2 397.7 666.1 390.0 664.5C382.3 662.9 371.7 660.2 364.0 658.5C356.3 656.8 350.7 655.3 344.0 654.0C337.3 652.7 330.7 651.5 324.0 650.5C317.3 649.5 310.7 648.7 304.0 648.0C297.3 647.3 290.7 646.7 284.0 646.2C277.3 645.7 268.3 645.6 264.0 645.0C259.7 644.4 259.0 643.2 258.0 642.8Q244 636.2 226 631Z" fill="#bebec3"/>
<path d="M355 633L466.3 596L466.3 670.2Z" fill="#cd1032"/>
<line x1="264.2" y1="588.2" x2="264.2" y2="680.2" stroke="#37a3d9" stroke-width="2.5" stroke-dasharray="9.4 5.5" stroke-dashoffset="3.1"/>
<line x1="467.6" y1="588.5" x2="467.6" y2="680" stroke="#37a3d9" stroke-width="2.5" stroke-dasharray="8.6 6.3" stroke-dashoffset="2.8"/>
<text transform="translate(215.60 627.60) scale(0.9347 1)" font-size="8.7" fill="#37a3d9" stroke="#37a3d9" stroke-width="0.06" >t(6;14)</text>
<text transform="translate(267.57 633.20) scale(0.9314 1)" font-size="8.7" fill="#1e1e1e" stroke="#1e1e1e" stroke-width="0.06" ><tspan font-style="italic">BRAF</tspan> D594E</text>
<text transform="translate(267.34 643.30) scale(0.9194 1)" font-size="8.7" fill="#1e1e1e" stroke="#1e1e1e" stroke-width="0.06" >22%</text>
<text transform="translate(402.47 628.40) scale(0.9153 1)" font-size="8.7" fill="#5a0a1c" stroke="#5a0a1c" stroke-width="0.06" ><tspan font-style="italic">BCMA</tspan> Ser48*</text>
<text transform="translate(402.22 638.20) scale(0.9564 1)" font-size="8.7" fill="#5a0a1c" stroke="#5a0a1c" stroke-width="0.06" >16p del</text>
<text transform="translate(402.46 646.40) scale(0.9529 1)" font-size="8.7" fill="#5a0a1c" stroke="#5a0a1c" stroke-width="0.06" >58%</text>
<rect x="0.5" y="0.5" width="519" height="685" fill="none" stroke="#3a3a3a" stroke-width="1.2"/>
</svg></body></html>
